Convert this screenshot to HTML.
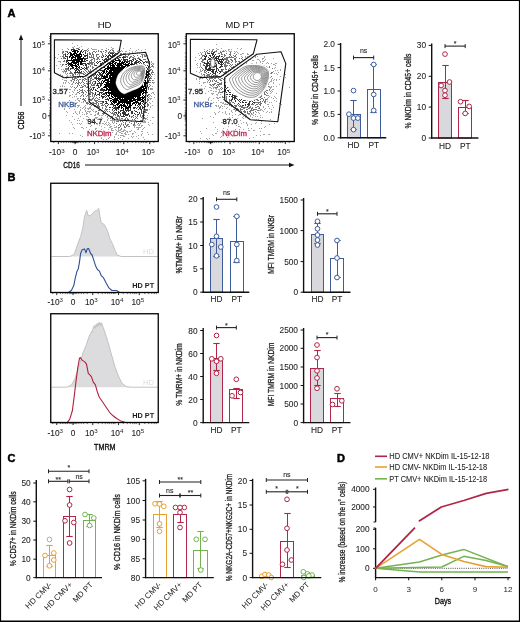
<!DOCTYPE html><html><head><meta charset="utf-8"><style>html,body{margin:0;padding:0;background:#fff;overflow:hidden}svg{display:block}.w{will-change:transform}text{font-family:"Liberation Sans",sans-serif}</style></head><body>
<div class="w"><svg width="520" height="622" viewBox="0 0 520 622" font-family="Liberation Sans, sans-serif">
<rect x="0" y="0" width="520" height="622" fill="#fff"/>
<path d="M0 0H520V1.1H0Z M0 0H1.1V622H0Z M518.9 0H520V622H518.9Z M0 620.6H520V622H0Z" fill="#000"/>
<text x="7.4" y="16.7" font-size="11" text-anchor="start" fill="#000" font-weight="bold" stroke="#000" stroke-width="0.5">A</text>
<text x="7.4" y="180.7" font-size="11" text-anchor="start" fill="#000" font-weight="bold" stroke="#000" stroke-width="0.5">B</text>
<text x="7.4" y="461.6" font-size="11" text-anchor="start" fill="#000" font-weight="bold" stroke="#000" stroke-width="0.5">C</text>
<text x="337" y="461.8" font-size="11" text-anchor="start" fill="#000" font-weight="bold" stroke="#000" stroke-width="0.5">D</text>
<path d="M72 43h1M77 45h1M74 46h1M81 46h1M72 47h2M79 47h1M111 47h1M67 48h1M88 48h1M91 48h1M106 48h1M112 48h2M123 48h1M130 48h1M62 49h1M92 49h5M101 49h2M111 49h2M138 49h1M145 49h1M118 50h1M121 50h1M129 50h1M136 50h1M141 50h1M62 51h1M122 51h1M125 51h2M132 51h1M135 51h1M129 52h1M132 52h1M137 52h1M134 53h2M139 53h1M58 54h1M143 54h2M145 55h1M147 55h1M60 56h1M55 57h1M147 57h1M57 58h1M58 61h3M151 61h1M60 62h1M151 62h1M152 63h2M60 64h1M153 64h1M56 65h1M61 66h1M153 66h1M153 67h1M58 68h1M61 69h1M63 69h1M62 71h3M63 72h1M65 72h1M65 73h1M60 74h1M66 74h1M154 74h1M62 75h1M67 75h1M62 76h1M66 76h2M65 77h1M68 77h1M66 78h1M154 78h1M62 79h1M64 80h3M70 80h1M153 80h1M66 81h1M71 81h1M63 82h1M65 82h1M68 82h1M153 82h2M63 83h1M65 83h1M69 83h1M72 83h1M153 83h1M71 84h2M62 85h1M60 86h1M62 86h1M64 86h1M70 86h1M72 86h1M152 86h1M71 87h1M67 88h1M151 88h2M66 89h2M69 89h2M74 89h1M150 89h3M74 90h1M72 91h1M61 92h1M69 92h1M73 92h1M152 92h2M61 93h1M76 93h1M151 93h1M153 93h1M72 94h1M75 94h2M154 94h1M69 95h2M150 95h1M69 96h1M74 96h1M76 96h1M149 96h1M151 96h1M72 97h1M154 97h1M77 98h2M149 98h3M77 99h1M150 99h1M69 100h1M75 100h1M78 100h2M79 101h1M152 101h1M63 102h1M72 102h1M74 102h1M77 102h1M81 102h1M83 102h1M149 102h1M73 103h1M150 103h1M63 104h1M67 104h1M71 104h1M87 104h1M77 105h3M85 105h1M152 105h1M78 106h1M84 106h1M90 106h1M150 106h1M77 107h1M80 107h1M83 107h1M85 107h1M89 107h2M150 107h1M64 108h1M69 108h1M82 108h1M85 108h1M87 108h4M64 109h1M74 109h1M80 109h1M84 109h1M88 109h1M91 109h1M93 109h1M149 109h1M80 110h1M85 110h1M92 110h1M66 111h1M75 111h1M79 111h1M85 111h1M87 111h4M93 111h1M95 111h1M67 112h1M75 112h1M79 112h1M82 112h1M86 112h1M89 112h1M95 112h1M73 113h1M76 113h1M79 113h1M86 113h2M97 113h1M148 113h1M77 114h1M82 114h1M84 114h1M86 114h1M90 114h2M95 114h1M97 114h2M66 115h1M94 115h2M99 115h1M101 115h2M105 115h1M147 115h1M72 116h1M80 116h1M86 116h2M88 117h1M95 117h3M101 117h1M107 117h1M147 117h1M152 117h2M78 118h1M83 118h1M94 118h3M100 118h1M102 118h1M108 118h1M146 118h1M74 119h1M86 119h2M90 119h1M92 119h1M97 119h1M99 119h1M107 119h1M145 119h1M147 119h1M69 120h1M77 120h1M79 120h1M92 120h2M107 120h1M110 120h5M144 120h1M150 120h1M82 121h1M91 121h1M95 121h1M104 121h1M112 121h1M114 121h1M144 121h2M71 122h1M106 122h1M108 122h1M112 122h1M114 122h1M143 122h3M148 122h1M77 123h1M79 123h1M81 123h1M94 123h1M102 123h2M105 123h1M109 123h1M113 123h1M152 123h1M72 124h1M80 124h1M90 124h1M97 124h1M104 124h1M106 124h1M108 124h1M110 124h1M137 124h1M139 124h1M148 124h1M91 125h1M99 125h1M107 125h1M109 125h1M114 125h1M134 125h2M138 125h2M141 125h2M149 125h1M90 126h1M101 126h1M110 126h2M116 126h1M134 126h1M141 126h1M73 127h1M81 127h2M86 127h1M104 127h1M109 127h2M114 127h3M134 127h1M136 127h5M144 127h1M74 128h1M83 128h1M95 128h2M111 128h2M118 128h1M138 128h1M143 128h1M89 129h1M95 129h1M101 129h1M108 129h1M111 129h1M115 129h1M118 129h1M120 129h2M124 129h1M137 129h2M142 129h1M92 130h1M96 130h2M103 130h1M111 130h3M116 130h1M118 130h3M123 130h3M131 130h1M91 131h1M108 131h1M117 131h2M121 131h3M126 131h2M129 131h2M134 131h1M141 131h2M89 132h1M112 132h1M116 132h1M119 132h2M125 132h1M127 132h1M135 132h1M147 132h1M59 133h1M69 133h1M72 133h1M96 133h1M116 133h1M121 133h2M124 133h2M132 133h2M142 133h1M115 134h2M125 134h2M128 134h1M132 134h1M141 134h1M148 134h1M152 134h1M80 135h1M88 135h1M98 135h1M110 135h1M118 135h1M120 135h4M138 135h1M141 135h1M82 136h1M104 136h1M114 136h1M123 136h2M131 136h1M133 136h1M136 136h1M101 137h1M109 137h1M114 137h1M120 137h1M132 137h1M143 137h1M101 138h1M108 138h1M118 138h1M128 138h1M138 138h1M103 139h1M106 139h1M114 139h1M122 139h1M144 139h1M216 44h1M216 48h1M221 48h1M237 48h1M241 48h1M204 49h1M209 49h1M212 49h1M217 49h2M228 49h2M231 49h1M240 49h1M223 50h1M225 50h1M228 50h1M224 51h1M226 51h1M229 51h3M234 51h1M236 51h1M200 52h1M202 52h1M235 52h1M237 52h1M198 53h1M201 53h1M238 53h1M242 53h2M247 53h1M240 54h2M247 54h2M253 54h1M199 55h1M241 56h1M245 56h1M247 56h1M253 56h1M255 56h1M257 56h1M264 56h1M195 57h1M245 57h1M255 57h1M264 57h1M200 58h1M262 58h2M273 58h1M199 59h1M244 59h2M248 59h1M250 59h1M257 59h2M262 59h1M265 59h1M195 60h1M245 60h1M252 60h2M259 60h1M264 60h1M212 61h1M243 61h2M260 61h1M262 61h2M211 62h1M243 62h1M246 62h1M256 62h1M260 62h1M267 62h1M197 63h1M211 63h1M243 63h1M246 63h1M251 63h2M256 63h1M262 63h1M266 63h1M268 63h1M271 63h1M275 63h2M196 64h1M200 64h1M241 64h1M251 64h1M260 64h1M273 64h2M197 65h1M200 65h1M240 65h1M252 65h1M258 65h1M263 65h2M275 65h1M200 66h1M244 66h1M246 66h1M248 66h1M251 66h1M253 66h2M259 66h2M262 66h1M197 67h1M199 67h1M244 67h1M248 67h1M257 67h1M260 67h2M275 67h1M274 68h1M200 69h1M280 69h1M200 70h1M275 70h1M277 70h1M280 70h1M196 71h1M200 71h2M273 71h1M199 72h1M278 72h1M201 73h1M274 73h1M276 73h1M201 74h1M277 74h1M285 74h1M202 75h1M200 76h2M280 76h1M204 77h1M285 77h1M196 78h1M199 78h2M202 78h1M272 78h1M196 79h1M199 79h1M271 79h1M274 79h1M276 79h1M279 79h1M271 80h1M273 80h1M276 80h1M199 81h1M207 81h1M270 81h2M203 82h3M207 82h1M269 82h1M273 82h1M199 83h1M203 83h1M273 83h1M209 84h1M279 84h1M201 85h1M210 85h1M205 86h1M212 86h1M269 86h1M271 86h1M273 86h1M276 86h1M209 87h2M213 87h2M269 87h3M289 87h1M204 88h1M211 88h1M213 88h1M215 88h2M270 88h1M216 89h1M218 89h2M272 89h2M210 90h2M219 90h1M269 90h1M271 90h1M208 91h1M213 91h1M215 91h2M219 91h1M270 91h1M272 91h1M218 92h2M271 92h1M205 93h1M211 93h3M218 93h1M270 93h1M276 93h1M212 94h1M216 94h2M220 94h1M217 95h1M267 95h2M269 96h1M274 96h1M209 97h1M216 97h2M219 97h2M268 97h1M271 97h1M275 97h1M208 98h1M213 98h1M217 98h2M267 98h1M273 98h1M276 98h1M208 99h1M267 99h1M208 100h1M211 100h1M218 100h1M274 100h1M267 101h1M276 101h1M213 102h1M216 102h1M220 102h2M223 102h1M265 102h1M269 102h1M271 102h1M204 103h1M212 103h1M222 103h2M225 103h1M265 103h1M279 103h1M210 104h1M224 104h3M267 104h2M281 104h1M215 105h2M218 105h1M221 105h1M272 105h1M211 106h1M216 106h1M218 106h1M220 106h1M222 106h1M224 106h1M263 106h1M268 106h1M203 107h1M219 107h2M227 107h1M263 107h1M273 107h1M219 108h1M222 108h1M226 108h1M265 108h1M269 108h1M229 109h1M233 109h1M260 109h2M264 109h1M271 109h1M231 110h1M235 110h1M259 110h2M262 110h1M219 111h1M225 111h1M231 111h1M235 111h1M263 111h1M267 111h1M271 111h1M214 112h1M218 112h1M222 112h1M225 112h1M232 112h1M256 112h1M258 112h1M266 112h1M269 112h1M271 112h1M215 113h1M225 113h1M229 113h1M253 113h1M259 113h1M215 114h1M226 114h1M229 114h1M235 114h1M239 114h1M248 114h2M251 114h2M255 114h1M279 114h1M232 115h1M238 115h1M246 115h1M250 115h1M253 115h1M260 115h1M210 116h1M243 116h1M250 116h1M255 116h1M257 116h1M278 116h1M213 117h1M229 117h1M232 117h1M242 117h1M245 117h1M252 117h1M260 117h1M262 117h1M202 118h1M237 118h1M243 118h1M248 118h1M222 119h1M256 119h1M258 119h1M270 119h1M226 120h1M231 120h1M240 120h1M255 120h1M223 121h1M237 121h1M261 121h1M213 122h1M221 122h1M228 122h1M243 122h1M246 122h1M256 122h1M228 123h2M241 123h1M246 123h1M255 123h1M261 123h1M274 123h1M224 124h1M238 124h1M247 124h1M251 124h1M269 124h1M236 125h1M247 125h1M228 126h1M238 126h2M265 126h1M215 127h1M240 127h1M264 127h1M206 128h1M223 128h1M248 128h1M251 128h1M259 128h1M261 128h1M217 129h1M227 129h1M235 129h1M239 129h1M243 129h1M222 130h1M233 130h1M248 130h2M253 130h2M200 131h1M217 131h1M222 131h1M237 131h1M260 131h1M221 132h1M201 133h1M215 133h2M212 134h1M263 134h2M268 134h2M213 135h1M256 135h1M260 135h1M221 136h1M232 136h1M220 137h1M227 137h1M253 137h1M200 138h1M206 138h1M209 138h1M249 138h1M207 139h1" stroke="#a3a3a3" stroke-width="1" fill="none" transform="translate(0,0.5)"/>
<path d="M73 48h1M76 48h3M68 49h1M82 49h1M87 49h1M108 49h1M84 50h3M88 50h1M98 50h1M105 50h2M110 50h1M112 50h2M63 51h1M65 51h3M85 51h1M87 51h1M93 51h2M96 51h1M98 51h1M100 51h2M103 51h1M106 51h1M109 51h1M113 51h1M117 51h1M120 51h1M62 52h2M89 52h1M92 52h1M95 52h1M101 52h1M105 52h1M108 52h7M118 52h1M62 53h1M65 53h1M87 53h1M89 53h2M92 53h1M102 53h1M116 53h1M120 53h2M123 53h3M63 54h2M89 54h2M92 54h2M96 54h3M102 54h1M105 54h1M120 54h1M123 54h1M128 54h2M141 54h2M63 55h1M91 55h1M93 55h1M96 55h1M102 55h2M121 55h1M125 55h1M128 55h1M133 55h1M137 55h1M142 55h1M144 55h1M62 56h2M89 56h1M91 56h1M93 56h1M96 56h1M99 56h1M101 56h1M124 56h4M130 56h2M134 56h1M140 56h1M142 56h1M144 56h2M63 57h2M89 57h5M97 57h2M101 57h1M127 57h1M129 57h2M132 57h2M138 57h1M142 57h1M61 58h1M63 58h2M93 58h2M97 58h2M133 58h3M137 58h3M147 58h1M91 59h2M94 59h1M96 59h2M99 59h1M143 59h3M148 59h1M64 60h1M90 60h2M94 60h1M63 61h2M89 61h1M91 61h1M94 61h1M146 61h2M149 61h1M89 62h5M147 62h2M89 63h4M94 63h1M148 63h1M62 64h2M65 64h1M88 64h2M91 64h2M94 64h1M151 64h1M62 65h1M90 65h1M94 65h1M152 65h1M66 66h1M88 66h1M90 66h1M92 66h1M149 66h1M151 66h2M87 67h2M92 67h2M150 67h1M65 68h3M87 68h1M92 68h1M65 69h4M86 69h2M90 69h1M94 69h1M150 69h2M64 70h1M66 70h1M68 70h2M85 70h1M88 70h1M90 70h1M150 70h1M152 70h1M65 71h2M70 71h1M83 71h1M86 71h1M88 71h4M93 71h2M152 71h1M70 72h2M81 72h1M84 72h1M87 72h1M89 72h3M93 72h1M151 72h3M67 73h1M69 73h4M74 73h2M78 73h6M85 73h1M88 73h1M90 73h3M94 73h1M151 73h1M72 74h2M75 74h1M77 74h1M79 74h1M83 74h2M87 74h1M91 74h4M150 74h1M152 74h1M70 75h1M72 75h2M79 75h1M85 75h1M87 75h2M90 75h1M92 75h3M150 75h1M73 76h3M77 76h2M80 76h2M84 76h1M86 76h6M93 76h1M151 76h1M72 77h1M75 77h1M77 77h2M80 77h1M82 77h2M87 77h1M89 77h1M91 77h1M94 77h1M150 77h1M72 78h1M74 78h3M84 78h2M90 78h2M94 78h1M150 78h2M72 79h3M77 79h1M79 79h2M82 79h2M85 79h2M88 79h1M90 79h1M92 79h2M149 79h1M71 80h1M74 80h1M76 80h1M78 80h1M82 80h1M84 80h1M90 80h2M149 80h2M152 80h1M73 81h1M78 81h1M82 81h1M86 81h1M88 81h3M93 81h2M73 82h1M76 82h1M78 82h2M81 82h1M83 82h1M90 82h1M92 82h1M149 82h2M152 82h1M75 83h1M77 83h2M80 83h1M84 83h1M86 83h2M89 83h2M92 83h1M94 83h1M78 84h1M83 84h1M87 84h1M91 84h1M93 84h2M149 84h1M77 85h1M79 85h1M81 85h1M84 85h2M88 85h1M91 85h4M150 85h1M77 86h1M82 86h2M85 86h1M87 86h1M90 86h1M149 86h1M74 87h1M76 87h1M80 87h3M86 87h2M90 87h1M92 87h1M75 88h1M88 88h2M91 88h1M148 88h1M150 88h1M79 89h1M82 89h1M90 89h1M148 89h1M77 90h1M80 90h3M84 90h1M87 90h1M89 90h2M79 91h1M82 91h1M85 91h1M88 91h1M90 91h1M77 92h2M81 92h3M86 92h1M90 92h3M79 93h1M83 93h1M88 93h3M92 93h2M82 94h1M85 94h1M89 94h2M92 94h1M94 94h1M148 94h2M81 95h1M83 95h1M87 95h1M92 95h1M94 95h1M148 95h1M80 96h1M83 96h1M86 96h1M90 96h1M92 96h1M94 96h1M93 97h1M96 97h1M148 97h1M80 98h1M83 98h1M85 98h1M92 98h2M95 98h1M97 98h1M147 98h1M82 99h3M88 99h5M94 99h1M98 99h2M147 99h2M84 100h2M90 100h2M94 100h4M147 100h2M83 101h1M85 101h1M89 101h1M95 101h2M98 101h4M147 101h1M86 102h2M89 102h1M92 102h2M96 102h2M102 102h1M86 103h3M90 103h2M93 103h4M98 103h1M100 103h3M147 103h1M89 104h2M92 104h2M96 104h1M98 104h1M102 104h1M104 104h1M147 104h2M91 105h1M94 105h2M97 105h2M101 105h3M105 105h1M147 105h2M94 106h6M105 106h2M147 106h1M98 107h2M102 107h1M106 107h1M102 108h1M105 108h1M99 109h2M105 109h3M109 109h1M145 109h3M98 110h2M101 110h1M104 110h1M106 110h1M112 110h1M145 110h3M96 111h1M105 111h1M107 111h1M109 111h1M113 111h1M143 111h3M98 112h1M103 112h1M110 112h1M112 112h1M114 112h1M144 112h3M98 113h1M102 113h3M111 113h4M141 113h2M103 114h1M113 114h3M140 114h1M143 114h1M108 115h1M113 115h1M115 115h1M117 115h1M137 115h1M140 115h1M142 115h3M107 116h1M110 116h3M117 116h3M131 116h2M135 116h1M137 116h1M140 116h1M142 116h2M112 117h1M115 117h2M119 117h1M126 117h1M131 117h1M133 117h1M136 117h1M141 117h1M143 117h2M110 118h1M112 118h1M116 118h2M119 118h1M121 118h2M125 118h1M127 118h1M135 118h1M137 118h1M143 118h3M112 119h1M114 119h1M117 119h1M124 119h2M127 119h2M132 119h1M134 119h1M120 120h2M128 120h1M135 120h1M140 120h2M116 121h3M120 121h1M122 121h1M126 121h1M131 121h1M139 121h1M141 121h2M123 122h1M125 122h1M129 122h1M134 122h1M136 122h1M116 123h1M121 123h1M125 123h1M131 123h1M134 123h1M138 123h1M140 123h1M119 124h1M121 124h1M123 124h1M125 124h1M127 124h2M133 124h2M118 125h1M120 125h1M123 125h1M126 125h2M133 125h1M120 126h1M124 126h1M126 126h1M128 126h2M118 127h2M124 127h2M121 128h1M213 49h1M207 50h1M212 50h1M216 50h1M204 51h1M206 51h1M209 51h1M211 51h2M214 51h3M220 51h1M222 51h2M205 52h1M207 52h1M211 52h1M220 52h2M230 52h1M205 53h1M207 53h1M218 53h2M221 53h1M226 53h1M230 53h1M234 53h1M201 54h1M221 54h2M224 54h1M229 54h2M236 54h1M202 55h3M224 55h2M230 55h1M233 55h1M235 55h1M202 56h1M222 56h1M224 56h1M229 56h1M231 56h1M234 56h2M201 57h1M223 57h1M226 57h8M236 57h1M242 57h1M201 58h1M224 58h4M234 58h2M239 58h1M241 58h1M202 59h2M211 59h1M213 59h1M224 59h4M230 59h2M234 59h2M242 59h1M202 60h2M226 60h3M231 60h2M235 60h1M201 61h2M210 61h1M225 61h2M228 61h2M232 61h1M235 61h2M238 61h2M202 62h2M224 62h5M231 62h1M235 62h1M239 62h2M200 63h1M210 63h1M214 63h1M225 63h1M227 63h3M237 63h1M239 63h1M203 64h1M210 64h2M224 64h2M230 64h1M232 64h1M235 64h1M203 65h1M224 65h4M229 65h1M231 65h1M236 65h1M224 66h3M230 66h1M233 66h1M266 66h1M269 66h1M201 67h1M225 67h1M231 67h3M237 67h1M267 67h1M269 67h1M202 68h1M225 68h1M229 68h1M237 68h1M241 68h1M249 68h1M259 68h3M272 68h1M203 69h1M205 69h1M222 69h2M225 69h2M228 69h1M234 69h1M236 69h1M238 69h1M240 69h1M242 69h1M256 69h1M258 69h1M263 69h1M266 69h1M268 69h1M202 70h1M204 70h2M221 70h2M228 70h1M230 70h1M233 70h1M235 70h1M238 70h2M244 70h1M246 70h1M254 70h1M262 70h1M266 70h1M269 70h1M204 71h1M206 71h1M221 71h2M225 71h2M228 71h1M232 71h1M234 71h3M241 71h1M246 71h1M248 71h1M253 71h1M259 71h1M265 71h1M268 71h2M204 72h2M223 72h4M228 72h1M230 72h1M232 72h2M243 72h1M247 72h1M259 72h1M263 72h1M267 72h1M271 72h2M206 73h1M224 73h5M234 73h1M241 73h1M243 73h1M248 73h2M253 73h2M256 73h3M263 73h1M265 73h3M270 73h2M203 74h2M207 74h3M223 74h1M225 74h5M245 74h1M248 74h2M260 74h1M264 74h1M266 74h1M204 75h1M206 75h4M211 75h1M213 75h5M222 75h2M227 75h1M230 75h2M233 75h1M241 75h1M243 75h2M247 75h1M258 75h1M263 75h1M267 75h1M204 76h1M207 76h1M209 76h5M215 76h6M223 76h1M226 76h1M228 76h2M234 76h1M237 76h1M240 76h1M246 76h1M248 76h1M250 76h1M252 76h1M256 76h1M262 76h2M267 76h1M269 76h1M271 76h1M205 77h2M211 77h10M229 77h2M232 77h1M239 77h1M243 77h1M248 77h1M262 77h1M268 77h1M270 77h1M206 78h1M209 78h4M214 78h2M218 78h1M221 78h2M224 78h2M230 78h3M234 78h2M237 78h1M241 78h1M246 78h2M254 78h1M256 78h1M258 78h2M266 78h1M269 78h1M207 79h1M209 79h1M213 79h1M219 79h2M223 79h1M226 79h1M229 79h1M231 79h1M234 79h1M237 79h1M239 79h1M243 79h3M248 79h1M258 79h1M261 79h2M264 79h1M266 79h1M208 80h1M210 80h1M212 80h1M214 80h1M216 80h1M220 80h2M224 80h1M228 80h3M232 80h1M237 80h1M244 80h1M246 80h2M251 80h4M257 80h1M259 80h2M210 81h1M212 81h1M215 81h2M226 81h1M229 81h2M232 81h1M235 81h1M240 81h2M244 81h1M246 81h3M251 81h2M257 81h1M259 81h2M262 81h2M265 81h1M209 82h1M217 82h2M221 82h1M228 82h1M231 82h1M233 82h1M237 82h2M245 82h5M251 82h4M256 82h2M259 82h1M263 82h1M214 83h2M219 83h3M229 83h1M233 83h1M235 83h3M239 83h2M245 83h3M253 83h2M256 83h1M258 83h2M263 83h1M266 83h1M268 83h1M210 84h1M212 84h3M217 84h5M230 84h2M237 84h1M240 84h5M249 84h1M252 84h3M257 84h1M259 84h1M262 84h2M265 84h1M268 84h1M211 85h1M213 85h1M216 85h1M218 85h1M233 85h2M236 85h1M239 85h1M241 85h2M245 85h1M247 85h1M252 85h2M255 85h2M258 85h2M263 85h1M217 86h1M219 86h1M236 86h4M241 86h3M245 86h1M249 86h2M253 86h4M258 86h2M261 86h4M268 86h1M215 87h3M221 87h1M241 87h1M243 87h6M250 87h4M255 87h1M259 87h2M262 87h1M264 87h1M266 87h1M220 88h1M222 88h1M243 88h2M246 88h2M251 88h4M257 88h2M261 88h1M265 88h1M221 89h1M247 89h1M249 89h1M251 89h4M257 89h3M265 89h1M269 89h1M254 90h4M260 90h1M266 90h2M222 91h2M257 91h2M260 91h1M264 91h2M220 92h3M255 92h6M262 92h3M266 92h1M224 93h1M255 93h3M261 93h2M264 93h1M267 93h1M255 94h3M261 94h1M264 94h2M224 95h1M260 95h2M266 95h1M222 96h1M224 96h1M226 96h1M259 96h3M222 97h3M226 97h1M257 97h4M264 97h1M226 98h1M261 98h2M223 99h1M226 99h1M229 99h1M257 99h1M260 99h1M263 99h1M265 99h2M226 100h1M229 100h2M257 100h2M263 100h1M265 100h1M225 101h1M227 101h1M229 101h1M231 101h1M260 101h1M262 101h1M264 101h2M228 102h3M232 102h2M255 102h6M264 102h1M230 103h1M234 103h1M254 103h1M258 103h1M260 103h2M227 104h1M229 104h1M231 104h1M237 104h1M239 104h1M251 104h3M256 104h2M259 104h2M229 105h1M231 105h2M234 105h3M238 105h1M240 105h1M249 105h1M255 105h1M260 105h1M231 106h1M235 106h2M239 106h4M248 106h1M250 106h1M257 106h2M235 107h1M241 107h7M249 107h2M252 107h1M255 107h2M259 107h1M236 108h2M240 108h1M243 108h2M248 108h2M251 108h2M258 108h2M234 109h1M237 109h2M240 109h3M246 109h2M251 109h1M253 109h4M236 110h1M240 110h1M244 110h1M250 110h4M257 110h2M241 111h1M243 111h3M247 111h1M249 111h2M255 111h1M241 112h1M244 112h2M247 112h1M250 112h1M253 112h1M242 113h1M247 113h3M251 113h1M240 114h1M245 114h1" stroke="#737373" stroke-width="1" fill="none" transform="translate(0,0.5)"/>
<path d="M71 49h4M78 49h2M71 50h1M73 50h1M77 50h1M81 50h1M80 51h2M83 51h1M67 52h1M69 52h1M82 52h1M85 52h1M68 53h1M85 53h1M108 53h1M110 53h4M115 53h1M65 54h1M67 54h1M87 54h1M109 54h1M112 54h1M114 54h1M117 54h1M65 55h1M84 55h4M106 55h1M108 55h3M112 55h4M117 55h1M120 55h1M65 56h3M84 56h2M87 56h1M103 56h1M105 56h1M107 56h2M110 56h3M114 56h4M123 56h1M67 57h1M87 57h1M102 57h1M107 57h2M112 57h3M117 57h1M119 57h2M122 57h4M65 58h1M67 58h1M84 58h4M105 58h2M108 58h1M110 58h1M117 58h2M123 58h1M129 58h1M67 59h1M84 59h2M102 59h1M104 59h5M118 59h2M121 59h1M123 59h5M132 59h2M135 59h1M139 59h2M66 60h2M84 60h1M86 60h2M103 60h2M106 60h1M120 60h1M123 60h3M127 60h1M129 60h3M133 60h1M136 60h2M140 60h2M66 61h2M83 61h3M97 61h1M99 61h2M104 61h3M125 61h5M131 61h2M135 61h2M138 61h2M142 61h1M145 61h1M66 62h1M96 62h1M98 62h1M102 62h1M104 62h2M129 62h1M131 62h1M134 62h5M140 62h1M143 62h2M146 62h1M67 63h2M82 63h4M87 63h2M97 63h1M100 63h2M103 63h1M131 63h2M134 63h3M139 63h1M141 63h1M143 63h1M66 64h1M68 64h1M82 64h1M85 64h2M100 64h2M103 64h2M137 64h1M142 64h1M68 65h1M83 65h1M85 65h2M95 65h2M100 65h4M147 65h1M69 66h1M86 66h1M99 66h2M148 66h1M68 67h1M79 67h1M81 67h1M84 67h1M86 67h1M97 67h1M101 67h1M103 67h1M148 67h1M68 68h1M70 68h4M76 68h2M79 68h1M82 68h2M85 68h2M99 68h3M147 68h1M70 69h1M74 69h1M76 69h3M80 69h2M84 69h1M96 69h1M99 69h1M147 69h1M75 70h2M78 70h2M96 70h3M100 70h4M149 70h1M75 71h1M77 71h1M79 71h1M81 71h1M95 71h1M102 71h1M148 71h2M74 72h7M96 72h1M98 72h2M101 72h1M95 73h1M99 73h2M102 73h1M148 73h2M95 74h1M97 74h1M99 74h4M148 74h2M96 75h1M98 75h1M100 75h2M148 75h1M96 76h1M99 76h1M101 76h1M148 76h2M95 77h2M98 77h1M101 77h1M148 77h1M95 78h7M147 78h1M149 78h1M96 79h1M98 79h3M147 79h1M97 80h1M99 80h1M148 80h1M95 81h1M98 81h1M101 81h1M147 81h2M95 82h1M99 82h1M101 82h1M147 82h2M95 83h1M97 83h5M147 83h1M97 84h1M100 84h2M96 85h3M100 85h2M147 85h1M98 86h1M100 86h1M147 86h1M93 87h2M98 87h2M148 87h1M93 88h1M97 88h1M101 88h2M91 89h1M93 89h1M95 89h1M100 89h4M92 90h1M95 90h2M100 90h5M97 91h2M103 91h1M146 91h1M95 92h1M99 92h4M146 92h2M95 93h1M99 93h1M101 93h1M103 93h3M95 94h1M97 94h3M102 94h3M96 95h1M99 95h1M101 95h1M105 95h1M147 95h1M101 96h4M106 96h1M147 96h1M99 97h1M102 97h2M105 97h1M102 98h1M107 98h1M145 98h1M105 99h4M145 99h1M108 100h1M145 100h1M102 101h2M105 101h2M110 101h1M103 102h1M106 102h1M143 102h1M145 102h2M105 103h3M111 103h1M142 103h1M144 103h2M108 104h1M110 104h4M139 104h2M143 104h1M107 105h1M113 105h2M137 105h1M139 105h1M141 105h1M144 105h1M113 106h1M115 106h1M138 106h1M140 106h1M142 106h1M145 106h1M109 107h2M112 107h1M114 107h3M133 107h3M137 107h1M139 107h2M142 107h2M113 108h6M130 108h1M133 108h2M136 108h1M139 108h2M142 108h1M112 109h1M115 109h2M118 109h1M127 109h2M130 109h1M138 109h1M140 109h2M144 109h1M114 110h1M116 110h1M120 110h4M125 110h6M134 110h1M141 110h1M118 111h1M120 111h1M123 111h2M126 111h1M128 111h1M131 111h2M135 111h2M141 111h1M115 112h2M118 112h2M122 112h4M131 112h2M137 112h1M139 112h1M141 112h1M116 113h1M118 113h1M120 113h1M122 113h4M128 113h1M131 113h2M134 113h1M139 113h1M117 114h1M120 114h1M123 114h6M135 114h1M137 114h2M118 115h1M120 115h1M123 115h1M125 115h3M129 115h1M133 115h1M121 116h4M129 116h1M213 52h2M208 53h2M211 53h3M205 54h1M212 54h2M215 54h1M206 55h1M209 55h2M212 55h1M214 55h1M219 55h1M204 56h3M210 56h1M213 56h2M216 56h4M221 56h1M205 57h1M208 57h1M211 57h1M213 57h1M215 57h2M218 57h1M204 58h2M209 58h2M214 58h5M222 58h1M204 59h2M208 59h3M214 59h1M216 59h1M218 59h6M207 60h1M215 60h3M219 60h1M221 60h1M223 60h1M207 61h1M209 61h1M218 61h5M204 62h1M207 62h2M218 62h1M220 62h3M204 63h6M215 63h1M218 63h2M221 63h1M223 63h1M206 64h2M209 64h1M216 64h1M220 64h3M204 65h1M206 65h4M216 65h1M221 65h1M205 66h3M209 66h1M214 66h3M220 66h3M205 67h2M209 67h2M213 67h1M216 67h1M219 67h2M205 68h2M208 68h3M216 68h2M206 69h9M216 69h1M218 69h1M221 69h1M207 70h4M212 70h2M216 70h1M218 70h1M211 71h3M215 71h2M219 71h2M208 72h1M212 72h2M215 72h1M217 72h1M220 72h1M210 73h1M213 73h3M219 73h1M212 74h1M215 74h1M224 82h2M224 83h1M227 83h1M224 84h1M227 84h1M224 85h2M228 85h1M225 86h1M228 86h1M230 86h1M225 87h1M227 87h2M231 87h2M234 87h1M236 87h3M226 88h1M231 88h5M238 88h1M240 88h1M242 88h1M224 89h2M229 89h1M235 89h1M237 89h3M241 89h1M243 89h1M224 90h2M227 90h2M230 90h4M235 90h1M238 90h3M243 90h1M247 90h1M252 90h2M224 91h2M228 91h1M238 91h1M242 91h1M244 91h1M246 91h1M248 91h1M250 91h1M226 92h1M229 92h2M236 92h3M240 92h1M244 92h2M247 92h1M251 92h1M233 93h2M237 93h1M239 93h2M244 93h1M246 93h1M249 93h1M253 93h1M226 94h2M229 94h2M232 94h1M235 94h1M238 94h1M240 94h1M245 94h1M248 94h5M254 94h1M232 95h5M241 95h1M245 95h1M247 95h1M249 95h3M254 95h1M229 96h1M231 96h2M234 96h4M239 96h1M241 96h2M245 96h1M247 96h2M250 96h1M253 96h2M232 97h4M240 97h2M244 97h1M247 97h2M255 97h1M232 98h1M234 98h3M242 98h2M246 98h2M251 98h1M253 98h1M255 98h1M231 99h2M234 99h1M237 99h1M239 99h1M241 99h1M246 99h1M249 99h1M253 99h4M231 100h1M235 100h1M238 100h1M240 100h1M243 100h3M247 100h1M251 100h1M254 100h1M235 101h1M239 101h1M242 101h1M249 101h2M252 101h1M240 102h1M242 102h2M245 102h2M249 102h1M253 102h2M238 103h1M248 103h2M252 103h1M245 104h1M247 104h3M242 105h2M245 105h1M248 105h1M247 106h1" stroke="#333333" stroke-width="1" fill="none" transform="translate(0,0.5)"/>
<path d="M74 50h3M72 51h4M77 51h2M70 52h1M74 52h2M77 52h1M80 52h1M70 53h2M73 53h4M79 53h2M70 54h5M76 54h6M83 54h1M70 55h3M74 55h6M81 55h1M69 56h2M72 56h2M75 56h7M69 57h1M71 57h5M77 57h4M83 57h1M71 58h2M75 58h1M77 58h7M113 58h1M71 59h1M73 59h10M110 59h3M115 59h1M68 60h12M81 60h2M110 60h2M113 60h1M115 60h5M72 61h3M76 61h7M107 61h2M111 61h4M119 61h2M122 61h1M124 61h1M68 62h1M71 62h8M80 62h2M107 62h4M112 62h2M115 62h2M119 62h1M121 62h4M126 62h2M69 63h3M73 63h4M78 63h1M80 63h2M107 63h1M109 63h4M114 63h2M117 63h7M125 63h1M128 63h2M69 64h4M75 64h1M77 64h2M80 64h2M106 64h2M109 64h2M112 64h2M115 64h1M117 64h5M123 64h6M130 64h5M136 64h1M143 64h2M70 65h7M78 65h1M105 65h1M108 65h1M110 65h5M116 65h7M125 65h5M131 65h1M134 65h4M140 65h1M143 65h3M71 66h2M75 66h3M79 66h1M107 66h2M110 66h1M112 66h3M117 66h3M121 66h5M127 66h7M135 66h1M137 66h2M140 66h1M144 66h1M72 67h2M76 67h1M78 67h1M104 67h1M107 67h18M126 67h2M131 67h1M134 67h1M136 67h5M142 67h1M144 67h3M75 68h1M105 68h19M125 68h3M129 68h3M133 68h3M138 68h2M141 68h3M104 69h2M107 69h2M110 69h13M124 69h16M141 69h1M143 69h3M104 70h1M106 70h1M109 70h32M142 70h3M146 70h1M103 71h2M106 71h2M109 71h3M113 71h21M135 71h10M146 71h2M103 72h2M106 72h1M108 72h28M137 72h8M146 72h2M103 73h1M105 73h1M107 73h17M125 73h17M143 73h4M106 74h3M110 74h18M129 74h2M132 74h11M144 74h4M102 75h1M104 75h1M106 75h2M109 75h17M127 75h1M129 75h16M146 75h2M102 76h6M109 76h2M112 76h10M123 76h13M137 76h10M103 77h5M109 77h13M123 77h7M131 77h11M143 77h4M102 78h4M108 78h20M129 78h9M139 78h7M105 79h4M110 79h29M140 79h3M144 79h1M102 80h1M104 80h5M110 80h32M143 80h3M103 81h2M107 81h18M126 81h18M145 81h1M103 82h1M105 82h4M110 82h15M126 82h16M143 82h4M102 83h1M106 83h30M137 83h3M141 83h2M144 83h3M104 84h20M125 84h1M127 84h14M142 84h1M144 84h2M105 85h38M144 85h2M104 86h35M140 86h6M103 87h4M108 87h36M145 87h2M106 88h2M109 88h33M143 88h4M104 89h1M106 89h39M105 90h2M108 90h39M108 91h1M111 91h33M145 91h1M105 92h37M143 92h3M106 93h1M108 93h33M142 93h2M145 93h1M106 94h1M109 94h1M111 94h30M142 94h1M107 95h3M111 95h1M113 95h28M143 95h1M145 95h1M108 96h1M111 96h2M114 96h26M142 96h1M144 96h1M109 97h1M112 97h2M115 97h1M117 97h17M135 97h1M137 97h8M109 98h3M114 98h7M122 98h1M124 98h11M137 98h4M142 98h2M112 99h6M119 99h13M133 99h10M144 99h1M110 100h2M113 100h6M120 100h8M129 100h7M137 100h4M142 100h2M112 101h5M118 101h15M135 101h3M141 101h3M111 102h1M113 102h4M118 102h13M133 102h6M140 102h1M112 103h1M114 103h1M117 103h3M122 103h1M124 103h1M126 103h5M132 103h3M136 103h1M138 103h3M116 104h3M120 104h2M123 104h2M127 104h1M129 104h2M132 104h1M135 104h1M138 104h1M115 105h1M117 105h1M119 105h7M127 105h1M129 105h3M135 105h1M118 106h2M121 106h1M123 106h4M128 106h3M117 107h3M121 107h2M125 107h6M121 108h1M123 108h1M125 108h4M123 109h1M125 109h1" stroke="#000000" stroke-width="1" fill="none" transform="translate(0,0.5)"/>
<ellipse cx="212.8" cy="62.8" rx="3.2" ry="5.1" fill="none" stroke="#666" stroke-width="1.2" stroke-dasharray="1,1.3"/>
<ellipse cx="212.8" cy="62.8" rx="2.2" ry="4.1" fill="#fff" stroke="#333" stroke-width="0.7"/>
<path d="M215.3 57.5 L219.3 64.2" stroke="#222" stroke-width="0.9"/>
<path d="M116.2 81C116.53 79.45 117.23 76.62 118.2 74.9C119.17 73.18 120.47 71.98 122 70.7C123.53 69.42 125.6 68.1 127.4 67.2C129.2 66.3 130.88 65.8 132.8 65.3C134.72 64.8 137.12 64.38 138.9 64.2C140.68 64.02 142.35 63.82 143.5 64.2C144.65 64.58 145.42 65.23 145.8 66.5C146.18 67.77 146.05 69.63 145.8 71.8C145.55 73.97 144.93 77.32 144.3 79.5C143.67 81.68 143.02 83.48 142 84.9C140.98 86.32 139.73 87.1 138.2 88C136.67 88.9 134.6 89.53 132.8 90.3C131 91.07 128.82 92.02 127.4 92.6C125.98 93.18 125.45 93.93 124.3 93.8C123.15 93.67 121.58 92.77 120.5 91.8C119.42 90.83 118.52 89.27 117.8 88C117.08 86.73 116.47 85.37 116.2 84.2C115.93 83.03 115.87 82.55 116.2 81Z" fill="#fff" stroke="#fff" stroke-width="0.5"/>
<path d="M120.76 79.4C121.03 78.16 121.59 75.89 122.36 74.52C123.13 73.15 124.17 72.19 125.4 71.16C126.63 70.13 128.28 69.08 129.72 68.36C131.16 67.64 132.51 67.24 134.04 66.84C135.57 66.44 137.49 66.11 138.92 65.96C140.35 65.81 141.68 65.65 142.6 65.96C143.52 66.27 144.13 66.79 144.44 67.8C144.75 68.81 144.64 70.31 144.44 72.04C144.24 73.77 143.75 76.45 143.24 78.2C142.73 79.95 142.21 81.39 141.4 82.52C140.59 83.65 139.59 84.28 138.36 85C137.13 85.72 135.48 86.23 134.04 86.84C132.6 87.45 130.85 88.21 129.72 88.68C128.59 89.15 128.16 89.75 127.24 89.64C126.32 89.53 125.07 88.81 124.2 88.04C123.33 87.27 122.61 86.01 122.04 85C121.47 83.99 120.97 82.89 120.76 81.96C120.55 81.03 120.49 80.64 120.76 79.4Z" fill="none" stroke="#747474" stroke-width="0.75"/>
<path d="M123.4 78.47C123.62 77.41 124.08 75.48 124.73 74.3C125.38 73.13 126.25 72.3 127.28 71.41C128.32 70.53 129.71 69.61 130.94 68.97C132.17 68.33 133.32 67.96 134.65 67.59C135.98 67.23 137.68 66.92 138.93 66.79C140.18 66.66 141.35 66.55 142.16 66.82C142.97 67.1 143.5 67.54 143.78 68.43C144.07 69.31 144.04 70.61 143.86 72.14C143.69 73.67 143.21 76.07 142.75 77.6C142.29 79.12 141.81 80.32 141.09 81.28C140.37 82.25 139.51 82.77 138.45 83.37C137.39 83.98 135.97 84.39 134.73 84.9C133.5 85.41 132.02 86.04 131.06 86.42C130.09 86.81 129.74 87.31 128.95 87.22C128.17 87.12 127.1 86.5 126.36 85.84C125.62 85.18 125.01 84.11 124.52 83.25C124.02 82.38 123.6 81.45 123.42 80.65C123.23 79.86 123.18 79.53 123.4 78.47Z" fill="none" stroke="#747474" stroke-width="0.75"/>
<path d="M126.05 77.55C126.22 76.67 126.58 75.07 127.1 74.09C127.62 73.11 128.33 72.42 129.17 71.67C130.01 70.92 131.15 70.13 132.16 69.58C133.18 69.03 134.13 68.68 135.26 68.35C136.38 68.02 137.86 67.73 138.94 67.62C140.02 67.51 141.02 67.45 141.72 67.68C142.42 67.92 142.87 68.29 143.13 69.05C143.39 69.81 143.43 70.92 143.29 72.24C143.14 73.57 142.68 75.7 142.26 77C141.84 78.3 141.4 79.26 140.78 80.05C140.16 80.84 139.42 81.26 138.53 81.75C137.64 82.24 136.45 82.56 135.43 82.96C134.41 83.37 133.19 83.86 132.39 84.17C131.6 84.47 131.31 84.88 130.67 84.79C130.02 84.7 129.14 84.19 128.53 83.64C127.91 83.09 127.4 82.21 126.99 81.5C126.58 80.78 126.23 80.01 126.07 79.35C125.92 78.69 125.87 78.42 126.05 77.55Z" fill="none" stroke="#747474" stroke-width="0.75"/>
<path d="M128.69 76.62C128.81 75.92 129.08 74.65 129.47 73.87C129.87 73.09 130.4 72.54 131.05 71.92C131.7 71.31 132.58 70.66 133.38 70.19C134.18 69.72 134.93 69.39 135.86 69.1C136.79 68.81 138.05 68.54 138.95 68.45C139.85 68.36 140.69 68.34 141.28 68.55C141.86 68.75 142.23 69.05 142.47 69.68C142.71 70.31 142.83 71.23 142.71 72.35C142.59 73.46 142.14 75.32 141.77 76.4C141.39 77.47 140.99 78.19 140.47 78.81C139.94 79.43 139.34 79.75 138.62 80.12C137.9 80.49 136.94 80.73 136.12 81.03C135.31 81.32 134.35 81.69 133.73 81.91C133.1 82.13 132.89 82.44 132.38 82.37C131.87 82.29 131.18 81.88 130.69 81.44C130.21 81.01 129.79 80.31 129.47 79.74C129.14 79.18 128.86 78.57 128.73 78.04C128.6 77.52 128.57 77.31 128.69 76.62Z" fill="none" stroke="#747474" stroke-width="0.75"/>
<path d="M131.33 75.69C131.41 75.18 131.57 74.24 131.84 73.65C132.11 73.07 132.48 72.66 132.94 72.18C133.4 71.7 134.01 71.19 134.6 70.8C135.19 70.41 135.74 70.11 136.47 69.86C137.2 69.6 138.23 69.35 138.96 69.28C139.69 69.2 140.36 69.24 140.84 69.41C141.31 69.58 141.6 69.8 141.82 70.31C142.03 70.81 142.22 71.53 142.13 72.45C142.04 73.36 141.61 74.94 141.28 75.79C140.95 76.65 140.58 77.12 140.15 77.57C139.72 78.03 139.26 78.25 138.71 78.5C138.15 78.75 137.43 78.9 136.82 79.09C136.21 79.28 135.52 79.51 135.06 79.65C134.61 79.79 134.46 80.01 134.09 79.94C133.73 79.87 133.21 79.57 132.85 79.24C132.5 78.92 132.19 78.41 131.94 77.99C131.7 77.58 131.49 77.12 131.39 76.74C131.29 76.36 131.26 76.2 131.33 75.69Z" fill="none" stroke="#747474" stroke-width="0.75"/>
<path d="M133.97 74.76C134 74.43 134.07 73.83 134.21 73.44C134.35 73.05 134.55 72.77 134.82 72.43C135.09 72.1 135.45 71.71 135.82 71.41C136.2 71.11 136.55 70.83 137.08 70.61C137.6 70.4 138.41 70.16 138.97 70.11C139.52 70.05 140.03 70.13 140.4 70.27C140.76 70.41 140.97 70.55 141.16 70.93C141.35 71.31 141.62 71.84 141.55 72.55C141.49 73.26 141.07 74.56 140.79 75.19C140.5 75.82 140.17 76.06 139.84 76.34C139.51 76.62 139.18 76.74 138.79 76.87C138.41 77.01 137.91 77.06 137.51 77.15C137.11 77.24 136.68 77.33 136.4 77.39C136.12 77.46 136.04 77.58 135.81 77.52C135.58 77.46 135.25 77.26 135.02 77.05C134.79 76.83 134.58 76.51 134.42 76.24C134.26 75.97 134.12 75.68 134.04 75.43C133.97 75.19 133.95 75.1 133.97 74.76Z" fill="none" stroke="#747474" stroke-width="0.75"/>
<path d="M136.62 73.84C136.6 73.68 136.57 73.41 136.58 73.22C136.6 73.03 136.63 72.89 136.71 72.69C136.78 72.49 136.88 72.24 137.04 72.02C137.21 71.8 137.36 71.55 137.69 71.37C138.01 71.19 138.6 70.98 138.98 70.94C139.35 70.9 139.7 71.03 139.95 71.13C140.21 71.24 140.33 71.31 140.51 71.56C140.68 71.81 141.01 72.15 140.98 72.65C140.94 73.16 140.54 74.18 140.3 74.59C140.06 75 139.77 74.99 139.53 75.1C139.29 75.21 139.1 75.23 138.88 75.25C138.66 75.27 138.4 75.23 138.21 75.21C138.02 75.2 137.85 75.16 137.74 75.14C137.62 75.12 137.61 75.14 137.52 75.09C137.43 75.05 137.29 74.95 137.18 74.85C137.08 74.75 136.97 74.61 136.89 74.49C136.81 74.37 136.75 74.24 136.7 74.13C136.65 74.02 136.64 73.99 136.62 73.84Z" fill="none" stroke="#747474" stroke-width="0.75"/>
<path d="M226 78.3C227.42 76.3 231.47 72.75 234.5 70.5C237.53 68.25 240.98 65.92 244.2 64.8C247.42 63.68 251 63.83 253.8 63.8C256.6 63.77 258.92 64.12 261 64.6C263.08 65.08 264.88 65.8 266.3 66.7C267.72 67.6 268.85 68.72 269.5 70C270.15 71.28 270.17 72.87 270.2 74.4C270.23 75.93 270.3 76.98 269.7 79.2C269.1 81.42 267.83 85.23 266.6 87.7C265.37 90.17 263.9 92.15 262.3 94C260.7 95.85 258.77 97.73 257 98.8C255.23 99.87 253.63 100.22 251.7 100.4C249.77 100.58 247.52 100.43 245.4 99.9C243.28 99.37 241.12 98.35 239 97.2C236.88 96.05 234.45 94.58 232.7 93C230.95 91.42 229.62 89.45 228.5 87.7C227.38 85.95 226.42 84.07 226 82.5C225.58 80.93 224.58 80.3 226 78.3Z" fill="#fff" stroke="#fff" stroke-width="0.5"/>
<path d="M230.09 78.07C231.33 76.33 234.85 73.24 237.49 71.28C240.13 69.32 243.13 67.29 245.93 66.32C248.73 65.35 251.84 65.48 254.28 65.45C256.72 65.42 258.73 65.73 260.55 66.15C262.36 66.57 263.92 67.19 265.16 67.97C266.39 68.76 267.37 69.73 267.94 70.84C268.51 71.96 268.52 73.34 268.55 74.67C268.58 76.01 268.64 76.92 268.11 78.85C267.59 80.78 266.49 84.1 265.42 86.24C264.34 88.39 263.07 90.12 261.68 91.72C260.28 93.33 258.6 94.97 257.06 95.9C255.53 96.83 254.14 97.13 252.45 97.29C250.77 97.45 248.81 97.32 246.97 96.86C245.13 96.39 243.25 95.51 241.41 94.51C239.56 93.51 237.45 92.23 235.92 90.86C234.4 89.48 233.24 87.77 232.27 86.24C231.3 84.72 230.46 83.08 230.09 81.72C229.73 80.36 228.86 79.81 230.09 78.07Z" fill="none" stroke="#6e6e6e" stroke-width="0.75"/>
<path d="M232.99 77.9C234.08 76.34 237.16 73.58 239.5 71.8C241.83 70.03 244.5 68.17 247 67.27C249.51 66.36 252.33 66.42 254.55 66.37C256.76 66.32 258.64 66.59 260.3 66.98C261.96 67.37 263.39 67.96 264.52 68.68C265.65 69.4 266.54 70.3 267.06 71.32C267.58 72.35 267.61 73.6 267.64 74.82C267.68 76.05 267.74 76.9 267.26 78.66C266.77 80.42 265.73 83.46 264.73 85.4C263.74 87.34 262.56 88.87 261.29 90.3C260.01 91.73 258.49 93.17 257.11 93.98C255.72 94.8 254.47 95.06 252.96 95.19C251.45 95.32 249.7 95.2 248.05 94.77C246.4 94.35 244.72 93.55 243.07 92.65C241.43 91.74 239.54 90.59 238.18 89.35C236.83 88.11 235.8 86.58 234.93 85.22C234.07 83.85 233.32 82.39 233 81.17C232.68 79.95 231.91 79.46 232.99 77.9Z" fill="none" stroke="#6e6e6e" stroke-width="0.75"/>
<path d="M235.89 77.73C236.82 76.35 239.48 73.91 241.51 72.33C243.54 70.74 245.86 69.05 248.08 68.21C250.3 67.37 252.82 67.35 254.82 67.29C256.81 67.22 258.54 67.46 260.06 67.81C261.57 68.16 262.87 68.72 263.89 69.39C264.91 70.05 265.71 70.87 266.18 71.8C266.66 72.73 266.7 73.86 266.74 74.97C266.77 76.08 266.85 76.87 266.4 78.47C265.95 80.07 264.97 82.83 264.05 84.56C263.13 86.3 262.04 87.62 260.89 88.87C259.74 90.12 258.39 91.36 257.15 92.06C255.91 92.76 254.81 92.99 253.47 93.09C252.14 93.19 250.59 93.07 249.13 92.68C247.67 92.3 246.18 91.59 244.74 90.78C243.29 89.98 241.64 88.95 240.44 87.85C239.25 86.75 238.35 85.39 237.59 84.19C236.84 82.98 236.19 81.69 235.9 80.61C235.62 79.54 234.96 79.12 235.89 77.73Z" fill="none" stroke="#6e6e6e" stroke-width="0.75"/>
<path d="M238.79 77.57C239.57 76.37 241.79 74.25 243.51 72.85C245.24 71.45 247.23 69.93 249.15 69.16C251.08 68.38 253.31 68.29 255.08 68.2C256.86 68.12 258.45 68.33 259.81 68.64C261.17 68.96 262.34 69.49 263.25 70.09C264.17 70.7 264.87 71.44 265.3 72.27C265.73 73.11 265.79 74.12 265.83 75.12C265.87 76.12 265.95 76.85 265.54 78.28C265.13 79.71 264.21 82.19 263.37 83.72C262.53 85.25 261.53 86.38 260.5 87.45C259.47 88.52 258.28 89.55 257.19 90.14C256.11 90.73 255.15 90.91 253.98 90.99C252.82 91.06 251.47 90.94 250.21 90.6C248.95 90.25 247.65 89.63 246.4 88.92C245.15 88.21 243.73 87.3 242.71 86.34C241.68 85.38 240.9 84.21 240.25 83.16C239.61 82.11 239.05 80.99 238.81 80.06C238.57 79.13 238 78.77 238.79 77.57Z" fill="none" stroke="#6e6e6e" stroke-width="0.75"/>
<path d="M241.69 77.4C242.32 76.38 244.1 74.59 245.52 73.38C246.95 72.16 248.59 70.81 250.23 70.1C251.87 69.4 253.79 69.22 255.35 69.12C256.91 69.02 258.35 69.2 259.57 69.48C260.78 69.76 261.81 70.25 262.62 70.8C263.43 71.35 264.04 72 264.42 72.75C264.81 73.5 264.88 74.38 264.93 75.27C264.97 76.16 265.06 76.82 264.69 78.09C264.31 79.36 263.45 81.56 262.68 82.88C261.92 84.2 261.02 85.13 260.11 86.02C259.2 86.91 258.17 87.75 257.24 88.22C256.3 88.7 255.49 88.84 254.49 88.88C253.5 88.93 252.36 88.82 251.29 88.51C250.22 88.21 249.12 87.67 248.07 87.05C247.01 86.44 245.82 85.66 244.97 84.84C244.11 84.02 243.46 83.02 242.92 82.13C242.37 81.24 241.92 80.29 241.71 79.51C241.51 78.72 241.05 78.43 241.69 77.4Z" fill="none" stroke="#6e6e6e" stroke-width="0.75"/>
<path d="M244.58 77.24C245.07 76.4 246.41 74.93 247.53 73.9C248.65 72.87 249.96 71.69 251.31 71.05C252.65 70.41 254.28 70.16 255.62 70.04C256.95 69.91 258.26 70.07 259.32 70.31C260.38 70.56 261.28 71.02 261.98 71.51C262.69 71.99 263.2 72.57 263.54 73.23C263.88 73.88 263.97 74.64 264.02 75.42C264.07 76.2 264.17 76.8 263.83 77.9C263.49 79 262.69 80.92 262 82.04C261.32 83.16 260.51 83.89 259.72 84.6C258.93 85.31 258.07 85.94 257.28 86.3C256.49 86.67 255.82 86.76 255 86.78C254.19 86.8 253.25 86.69 252.37 86.43C251.49 86.16 250.59 85.7 249.73 85.19C248.88 84.67 247.92 84.02 247.23 83.34C246.53 82.65 246.01 81.83 245.58 81.1C245.14 80.37 244.78 79.6 244.62 78.95C244.45 78.31 244.1 78.08 244.58 77.24Z" fill="none" stroke="#6e6e6e" stroke-width="0.75"/>
<path d="M247.48 77.07C247.82 76.41 248.72 75.27 249.54 74.42C250.36 73.58 251.32 72.57 252.38 72C253.44 71.42 254.77 71.1 255.88 70.96C257 70.81 258.16 70.93 259.08 71.14C259.99 71.35 260.75 71.79 261.35 72.21C261.95 72.64 262.37 73.14 262.66 73.7C262.96 74.26 263.07 74.9 263.12 75.57C263.17 76.24 263.27 76.77 262.97 77.71C262.67 78.65 261.93 80.29 261.32 81.2C260.71 82.11 260 82.64 259.33 83.17C258.66 83.7 257.96 84.13 257.32 84.38C256.69 84.64 256.16 84.69 255.51 84.68C254.87 84.67 254.13 84.56 253.45 84.34C252.76 84.11 252.06 83.74 251.4 83.33C250.74 82.91 250.01 82.37 249.49 81.83C248.96 81.29 248.57 80.65 248.24 80.08C247.91 79.5 247.65 78.9 247.52 78.4C247.4 77.9 247.14 77.74 247.48 77.07Z" fill="none" stroke="#6e6e6e" stroke-width="0.75"/>
<path d="M250.38 76.91C250.56 76.42 251.04 75.61 251.55 74.95C252.06 74.29 252.69 73.45 253.46 72.94C254.22 72.43 255.26 72.03 256.15 71.87C257.05 71.71 258.07 71.8 258.83 71.98C259.59 72.15 260.22 72.55 260.72 72.92C261.21 73.29 261.54 73.71 261.78 74.18C262.03 74.65 262.16 75.16 262.21 75.72C262.27 76.28 262.38 76.75 262.12 77.52C261.85 78.29 261.16 79.65 260.64 80.36C260.11 81.06 259.48 81.4 258.94 81.75C258.39 82.1 257.85 82.33 257.37 82.46C256.88 82.6 256.5 82.61 256.02 82.58C255.55 82.54 255.02 82.44 254.53 82.25C254.03 82.07 253.53 81.78 253.07 81.46C252.6 81.14 252.11 80.73 251.75 80.33C251.39 79.93 251.12 79.46 250.9 79.05C250.68 78.64 250.52 78.2 250.43 77.85C250.34 77.49 250.19 77.39 250.38 76.91Z" fill="none" stroke="#6e6e6e" stroke-width="0.75"/>
<path d="M253.28 76.74C253.31 76.44 253.35 75.95 253.56 75.47C253.77 75 254.05 74.34 254.53 73.89C255.01 73.44 255.74 72.97 256.42 72.79C257.09 72.61 257.98 72.67 258.59 72.81C259.2 72.95 259.69 73.32 260.08 73.63C260.47 73.93 260.7 74.28 260.91 74.66C261.11 75.03 261.25 75.42 261.31 75.87C261.36 76.32 261.48 76.72 261.26 77.33C261.03 77.94 260.4 79.02 259.95 79.52C259.5 80.02 258.97 80.15 258.55 80.32C258.12 80.49 257.74 80.52 257.41 80.55C257.07 80.57 256.84 80.54 256.54 80.48C256.23 80.41 255.91 80.31 255.6 80.17C255.3 80.02 255 79.82 254.73 79.6C254.46 79.37 254.2 79.09 254.01 78.82C253.81 78.56 253.67 78.28 253.56 78.02C253.45 77.77 253.38 77.51 253.33 77.29C253.29 77.08 253.24 77.05 253.28 76.74Z" fill="none" stroke="#6e6e6e" stroke-width="0.75"/>
<line x1="120" y1="53.6" x2="86.5" y2="77.2" stroke="#fff" stroke-width="1.3"/>
<line x1="255" y1="54" x2="222.8" y2="77" stroke="#fff" stroke-width="1.3"/>
<path d="M54.4 39.7 L121.3 40.2 L119 52.5 L85 76.3 L64 77.8 L54.4 72.8 Z" stroke="#111" stroke-width="1.1" fill="none" stroke-linejoin="round"/>
<path d="M88.1 78 L120.8 54.8 L145.6 52.2 L149.6 63.5 L142.7 121.7 L115 119.7 L89.2 102 Z" stroke="#111" stroke-width="1.1" fill="none" stroke-linejoin="round"/>
<path d="M190.4 39.3 L257.1 39.7 L253.3 53.8 L221 76.5 L200.4 77.6 L190.4 73.2 Z" stroke="#111" stroke-width="1.1" fill="none" stroke-linejoin="round"/>
<path d="M224.7 77.4 L256.8 54.3 L281 51.7 L285.8 63.6 L277.8 121.7 L250.4 119.7 L224.7 100.3 Z" stroke="#111" stroke-width="1.1" fill="none" stroke-linejoin="round"/>
<rect x="50.75" y="33.75" width="107.5" height="107.75" fill="none" stroke="#000" stroke-width="1.3"/>
<line x1="47.95" y1="43.8" x2="50.75" y2="43.8" stroke="#111" stroke-width="0.9"/>
<text x="44.95" y="48" font-size="8.4" text-anchor="end" fill="#1e1e1e" stroke="#222" stroke-width="0.1">10<tspan font-size="6.2" dy="-2.9" stroke-width="0">5</tspan></text>
<line x1="47.95" y1="70.8" x2="50.75" y2="70.8" stroke="#111" stroke-width="0.9"/>
<text x="44.95" y="73.8" font-size="8.4" text-anchor="end" fill="#1e1e1e" stroke="#222" stroke-width="0.1">10<tspan font-size="6.2" dy="-2.9" stroke-width="0">4</tspan></text>
<line x1="47.95" y1="100" x2="50.75" y2="100" stroke="#111" stroke-width="0.9"/>
<text x="44.95" y="103" font-size="8.4" text-anchor="end" fill="#1e1e1e" stroke="#222" stroke-width="0.1">10<tspan font-size="6.2" dy="-2.9" stroke-width="0">3</tspan></text>
<line x1="47.95" y1="115.8" x2="50.75" y2="115.8" stroke="#111" stroke-width="0.9"/>
<text x="46.55" y="118.8" font-size="8.4" text-anchor="end" fill="#1e1e1e" stroke="#222" stroke-width="0.1">0</text>
<line x1="47.95" y1="135.8" x2="50.75" y2="135.8" stroke="#111" stroke-width="0.9"/>
<text x="44.95" y="138.8" font-size="8.4" text-anchor="end" fill="#1e1e1e" stroke="#222" stroke-width="0.1">-10<tspan font-size="6.2" dy="-2.9" stroke-width="0">3</tspan></text>
<line x1="49.25" y1="36.5" x2="50.75" y2="36.5" stroke="#111" stroke-width="0.6"/>
<line x1="49.25" y1="38.5" x2="50.75" y2="38.5" stroke="#111" stroke-width="0.6"/>
<line x1="49.25" y1="41" x2="50.75" y2="41" stroke="#111" stroke-width="0.6"/>
<line x1="49.25" y1="53" x2="50.75" y2="53" stroke="#111" stroke-width="0.6"/>
<line x1="49.25" y1="57" x2="50.75" y2="57" stroke="#111" stroke-width="0.6"/>
<line x1="49.25" y1="60" x2="50.75" y2="60" stroke="#111" stroke-width="0.6"/>
<line x1="49.25" y1="63" x2="50.75" y2="63" stroke="#111" stroke-width="0.6"/>
<line x1="49.25" y1="66" x2="50.75" y2="66" stroke="#111" stroke-width="0.6"/>
<line x1="49.25" y1="68.5" x2="50.75" y2="68.5" stroke="#111" stroke-width="0.6"/>
<line x1="49.25" y1="79" x2="50.75" y2="79" stroke="#111" stroke-width="0.6"/>
<line x1="49.25" y1="84" x2="50.75" y2="84" stroke="#111" stroke-width="0.6"/>
<line x1="49.25" y1="88" x2="50.75" y2="88" stroke="#111" stroke-width="0.6"/>
<line x1="49.25" y1="92" x2="50.75" y2="92" stroke="#111" stroke-width="0.6"/>
<line x1="49.25" y1="95" x2="50.75" y2="95" stroke="#111" stroke-width="0.6"/>
<line x1="49.25" y1="97.5" x2="50.75" y2="97.5" stroke="#111" stroke-width="0.6"/>
<line x1="49.25" y1="104" x2="50.75" y2="104" stroke="#111" stroke-width="0.6"/>
<line x1="49.25" y1="108" x2="50.75" y2="108" stroke="#111" stroke-width="0.6"/>
<line x1="49.25" y1="110.5" x2="50.75" y2="110.5" stroke="#111" stroke-width="0.6"/>
<line x1="49.25" y1="112" x2="50.75" y2="112" stroke="#111" stroke-width="0.6"/>
<line x1="49.25" y1="113" x2="50.75" y2="113" stroke="#111" stroke-width="0.6"/>
<line x1="49.25" y1="114" x2="50.75" y2="114" stroke="#111" stroke-width="0.6"/>
<line x1="49.25" y1="114.8" x2="50.75" y2="114.8" stroke="#111" stroke-width="0.6"/>
<line x1="49.25" y1="116.6" x2="50.75" y2="116.6" stroke="#111" stroke-width="0.6"/>
<line x1="49.25" y1="117.5" x2="50.75" y2="117.5" stroke="#111" stroke-width="0.6"/>
<line x1="49.25" y1="118.5" x2="50.75" y2="118.5" stroke="#111" stroke-width="0.6"/>
<line x1="49.25" y1="119.5" x2="50.75" y2="119.5" stroke="#111" stroke-width="0.6"/>
<line x1="49.25" y1="121" x2="50.75" y2="121" stroke="#111" stroke-width="0.6"/>
<line x1="49.25" y1="125" x2="50.75" y2="125" stroke="#111" stroke-width="0.6"/>
<line x1="49.25" y1="130" x2="50.75" y2="130" stroke="#111" stroke-width="0.6"/>
<line x1="49.25" y1="133" x2="50.75" y2="133" stroke="#111" stroke-width="0.6"/>
<line x1="58.35" y1="141.5" x2="58.35" y2="144.1" stroke="#111" stroke-width="0.9"/>
<text x="56.85" y="155.4" font-size="8.4" text-anchor="middle" fill="#1e1e1e" stroke="#222" stroke-width="0.1">-10<tspan font-size="6.2" dy="-2.9" stroke-width="0">3</tspan></text>
<line x1="75.15" y1="141.5" x2="75.15" y2="144.1" stroke="#111" stroke-width="0.9"/>
<text x="75.15" y="155.4" font-size="8.4" text-anchor="middle" fill="#1e1e1e" stroke="#222" stroke-width="0.1">0</text>
<line x1="94.55" y1="141.5" x2="94.55" y2="144.1" stroke="#111" stroke-width="0.9"/>
<text x="93.05" y="155.4" font-size="8.4" text-anchor="middle" fill="#1e1e1e" stroke="#222" stroke-width="0.1">10<tspan font-size="6.2" dy="-2.9" stroke-width="0">3</tspan></text>
<line x1="123.75" y1="141.5" x2="123.75" y2="144.1" stroke="#111" stroke-width="0.9"/>
<text x="122.25" y="155.4" font-size="8.4" text-anchor="middle" fill="#1e1e1e" stroke="#222" stroke-width="0.1">10<tspan font-size="6.2" dy="-2.9" stroke-width="0">4</tspan></text>
<line x1="149.75" y1="141.5" x2="149.75" y2="144.1" stroke="#111" stroke-width="0.9"/>
<text x="148.25" y="155.4" font-size="8.4" text-anchor="middle" fill="#1e1e1e" stroke="#222" stroke-width="0.1">10<tspan font-size="6.2" dy="-2.9" stroke-width="0">5</tspan></text>
<line x1="53.75" y1="141.5" x2="53.75" y2="143.1" stroke="#111" stroke-width="0.6"/>
<line x1="61.25" y1="141.5" x2="61.25" y2="143.1" stroke="#111" stroke-width="0.6"/>
<line x1="63.75" y1="141.5" x2="63.75" y2="143.1" stroke="#111" stroke-width="0.6"/>
<line x1="66.25" y1="141.5" x2="66.25" y2="143.1" stroke="#111" stroke-width="0.6"/>
<line x1="68.75" y1="141.5" x2="68.75" y2="143.1" stroke="#111" stroke-width="0.6"/>
<line x1="70.75" y1="141.5" x2="70.75" y2="143.1" stroke="#111" stroke-width="0.6"/>
<line x1="72.25" y1="141.5" x2="72.25" y2="143.1" stroke="#111" stroke-width="0.6"/>
<line x1="73.05" y1="141.5" x2="73.05" y2="143.1" stroke="#111" stroke-width="0.6"/>
<line x1="73.75" y1="141.5" x2="73.75" y2="143.1" stroke="#111" stroke-width="0.6"/>
<line x1="74.35" y1="141.5" x2="74.35" y2="143.1" stroke="#111" stroke-width="0.6"/>
<line x1="74.95" y1="141.5" x2="74.95" y2="143.1" stroke="#111" stroke-width="0.6"/>
<line x1="75.55" y1="141.5" x2="75.55" y2="143.1" stroke="#111" stroke-width="0.6"/>
<line x1="76.15" y1="141.5" x2="76.15" y2="143.1" stroke="#111" stroke-width="0.6"/>
<line x1="76.75" y1="141.5" x2="76.75" y2="143.1" stroke="#111" stroke-width="0.6"/>
<line x1="77.25" y1="141.5" x2="77.25" y2="143.1" stroke="#111" stroke-width="0.6"/>
<line x1="78.75" y1="141.5" x2="78.75" y2="143.1" stroke="#111" stroke-width="0.6"/>
<line x1="80.75" y1="141.5" x2="80.75" y2="143.1" stroke="#111" stroke-width="0.6"/>
<line x1="83.25" y1="141.5" x2="83.25" y2="143.1" stroke="#111" stroke-width="0.6"/>
<line x1="85.75" y1="141.5" x2="85.75" y2="143.1" stroke="#111" stroke-width="0.6"/>
<line x1="89.25" y1="141.5" x2="89.25" y2="143.1" stroke="#111" stroke-width="0.6"/>
<line x1="98.25" y1="141.5" x2="98.25" y2="143.1" stroke="#111" stroke-width="0.6"/>
<line x1="102.75" y1="141.5" x2="102.75" y2="143.1" stroke="#111" stroke-width="0.6"/>
<line x1="105.75" y1="141.5" x2="105.75" y2="143.1" stroke="#111" stroke-width="0.6"/>
<line x1="108.25" y1="141.5" x2="108.25" y2="143.1" stroke="#111" stroke-width="0.6"/>
<line x1="110.25" y1="141.5" x2="110.25" y2="143.1" stroke="#111" stroke-width="0.6"/>
<line x1="112.25" y1="141.5" x2="112.25" y2="143.1" stroke="#111" stroke-width="0.6"/>
<line x1="114.25" y1="141.5" x2="114.25" y2="143.1" stroke="#111" stroke-width="0.6"/>
<line x1="116.25" y1="141.5" x2="116.25" y2="143.1" stroke="#111" stroke-width="0.6"/>
<line x1="118.25" y1="141.5" x2="118.25" y2="143.1" stroke="#111" stroke-width="0.6"/>
<line x1="120.25" y1="141.5" x2="120.25" y2="143.1" stroke="#111" stroke-width="0.6"/>
<line x1="127.75" y1="141.5" x2="127.75" y2="143.1" stroke="#111" stroke-width="0.6"/>
<line x1="132.25" y1="141.5" x2="132.25" y2="143.1" stroke="#111" stroke-width="0.6"/>
<line x1="135.75" y1="141.5" x2="135.75" y2="143.1" stroke="#111" stroke-width="0.6"/>
<line x1="138.75" y1="141.5" x2="138.75" y2="143.1" stroke="#111" stroke-width="0.6"/>
<line x1="141.25" y1="141.5" x2="141.25" y2="143.1" stroke="#111" stroke-width="0.6"/>
<line x1="143.25" y1="141.5" x2="143.25" y2="143.1" stroke="#111" stroke-width="0.6"/>
<line x1="145.25" y1="141.5" x2="145.25" y2="143.1" stroke="#111" stroke-width="0.6"/>
<line x1="146.75" y1="141.5" x2="146.75" y2="143.1" stroke="#111" stroke-width="0.6"/>
<line x1="153.75" y1="141.5" x2="153.75" y2="143.1" stroke="#111" stroke-width="0.6"/>
<rect x="186.25" y="33.75" width="108" height="107.75" fill="none" stroke="#000" stroke-width="1.3"/>
<line x1="183.45" y1="43.8" x2="186.25" y2="43.8" stroke="#111" stroke-width="0.9"/>
<text x="180.45" y="48" font-size="8.4" text-anchor="end" fill="#1e1e1e" stroke="#222" stroke-width="0.1">10<tspan font-size="6.2" dy="-2.9" stroke-width="0">5</tspan></text>
<line x1="183.45" y1="70.8" x2="186.25" y2="70.8" stroke="#111" stroke-width="0.9"/>
<text x="180.45" y="73.8" font-size="8.4" text-anchor="end" fill="#1e1e1e" stroke="#222" stroke-width="0.1">10<tspan font-size="6.2" dy="-2.9" stroke-width="0">4</tspan></text>
<line x1="183.45" y1="100" x2="186.25" y2="100" stroke="#111" stroke-width="0.9"/>
<text x="180.45" y="103" font-size="8.4" text-anchor="end" fill="#1e1e1e" stroke="#222" stroke-width="0.1">10<tspan font-size="6.2" dy="-2.9" stroke-width="0">3</tspan></text>
<line x1="183.45" y1="115.8" x2="186.25" y2="115.8" stroke="#111" stroke-width="0.9"/>
<text x="182.05" y="118.8" font-size="8.4" text-anchor="end" fill="#1e1e1e" stroke="#222" stroke-width="0.1">0</text>
<line x1="183.45" y1="135.8" x2="186.25" y2="135.8" stroke="#111" stroke-width="0.9"/>
<text x="180.45" y="138.8" font-size="8.4" text-anchor="end" fill="#1e1e1e" stroke="#222" stroke-width="0.1">-10<tspan font-size="6.2" dy="-2.9" stroke-width="0">3</tspan></text>
<line x1="184.75" y1="36.5" x2="186.25" y2="36.5" stroke="#111" stroke-width="0.6"/>
<line x1="184.75" y1="38.5" x2="186.25" y2="38.5" stroke="#111" stroke-width="0.6"/>
<line x1="184.75" y1="41" x2="186.25" y2="41" stroke="#111" stroke-width="0.6"/>
<line x1="184.75" y1="53" x2="186.25" y2="53" stroke="#111" stroke-width="0.6"/>
<line x1="184.75" y1="57" x2="186.25" y2="57" stroke="#111" stroke-width="0.6"/>
<line x1="184.75" y1="60" x2="186.25" y2="60" stroke="#111" stroke-width="0.6"/>
<line x1="184.75" y1="63" x2="186.25" y2="63" stroke="#111" stroke-width="0.6"/>
<line x1="184.75" y1="66" x2="186.25" y2="66" stroke="#111" stroke-width="0.6"/>
<line x1="184.75" y1="68.5" x2="186.25" y2="68.5" stroke="#111" stroke-width="0.6"/>
<line x1="184.75" y1="79" x2="186.25" y2="79" stroke="#111" stroke-width="0.6"/>
<line x1="184.75" y1="84" x2="186.25" y2="84" stroke="#111" stroke-width="0.6"/>
<line x1="184.75" y1="88" x2="186.25" y2="88" stroke="#111" stroke-width="0.6"/>
<line x1="184.75" y1="92" x2="186.25" y2="92" stroke="#111" stroke-width="0.6"/>
<line x1="184.75" y1="95" x2="186.25" y2="95" stroke="#111" stroke-width="0.6"/>
<line x1="184.75" y1="97.5" x2="186.25" y2="97.5" stroke="#111" stroke-width="0.6"/>
<line x1="184.75" y1="104" x2="186.25" y2="104" stroke="#111" stroke-width="0.6"/>
<line x1="184.75" y1="108" x2="186.25" y2="108" stroke="#111" stroke-width="0.6"/>
<line x1="184.75" y1="110.5" x2="186.25" y2="110.5" stroke="#111" stroke-width="0.6"/>
<line x1="184.75" y1="112" x2="186.25" y2="112" stroke="#111" stroke-width="0.6"/>
<line x1="184.75" y1="113" x2="186.25" y2="113" stroke="#111" stroke-width="0.6"/>
<line x1="184.75" y1="114" x2="186.25" y2="114" stroke="#111" stroke-width="0.6"/>
<line x1="184.75" y1="114.8" x2="186.25" y2="114.8" stroke="#111" stroke-width="0.6"/>
<line x1="184.75" y1="116.6" x2="186.25" y2="116.6" stroke="#111" stroke-width="0.6"/>
<line x1="184.75" y1="117.5" x2="186.25" y2="117.5" stroke="#111" stroke-width="0.6"/>
<line x1="184.75" y1="118.5" x2="186.25" y2="118.5" stroke="#111" stroke-width="0.6"/>
<line x1="184.75" y1="119.5" x2="186.25" y2="119.5" stroke="#111" stroke-width="0.6"/>
<line x1="184.75" y1="121" x2="186.25" y2="121" stroke="#111" stroke-width="0.6"/>
<line x1="184.75" y1="125" x2="186.25" y2="125" stroke="#111" stroke-width="0.6"/>
<line x1="184.75" y1="130" x2="186.25" y2="130" stroke="#111" stroke-width="0.6"/>
<line x1="184.75" y1="133" x2="186.25" y2="133" stroke="#111" stroke-width="0.6"/>
<line x1="193.85" y1="141.5" x2="193.85" y2="144.1" stroke="#111" stroke-width="0.9"/>
<text x="192.35" y="155.4" font-size="8.4" text-anchor="middle" fill="#1e1e1e" stroke="#222" stroke-width="0.1">-10<tspan font-size="6.2" dy="-2.9" stroke-width="0">3</tspan></text>
<line x1="210.65" y1="141.5" x2="210.65" y2="144.1" stroke="#111" stroke-width="0.9"/>
<text x="210.65" y="155.4" font-size="8.4" text-anchor="middle" fill="#1e1e1e" stroke="#222" stroke-width="0.1">0</text>
<line x1="230.05" y1="141.5" x2="230.05" y2="144.1" stroke="#111" stroke-width="0.9"/>
<text x="228.55" y="155.4" font-size="8.4" text-anchor="middle" fill="#1e1e1e" stroke="#222" stroke-width="0.1">10<tspan font-size="6.2" dy="-2.9" stroke-width="0">3</tspan></text>
<line x1="259.25" y1="141.5" x2="259.25" y2="144.1" stroke="#111" stroke-width="0.9"/>
<text x="257.75" y="155.4" font-size="8.4" text-anchor="middle" fill="#1e1e1e" stroke="#222" stroke-width="0.1">10<tspan font-size="6.2" dy="-2.9" stroke-width="0">4</tspan></text>
<line x1="285.25" y1="141.5" x2="285.25" y2="144.1" stroke="#111" stroke-width="0.9"/>
<text x="283.75" y="155.4" font-size="8.4" text-anchor="middle" fill="#1e1e1e" stroke="#222" stroke-width="0.1">10<tspan font-size="6.2" dy="-2.9" stroke-width="0">5</tspan></text>
<line x1="189.25" y1="141.5" x2="189.25" y2="143.1" stroke="#111" stroke-width="0.6"/>
<line x1="196.75" y1="141.5" x2="196.75" y2="143.1" stroke="#111" stroke-width="0.6"/>
<line x1="199.25" y1="141.5" x2="199.25" y2="143.1" stroke="#111" stroke-width="0.6"/>
<line x1="201.75" y1="141.5" x2="201.75" y2="143.1" stroke="#111" stroke-width="0.6"/>
<line x1="204.25" y1="141.5" x2="204.25" y2="143.1" stroke="#111" stroke-width="0.6"/>
<line x1="206.25" y1="141.5" x2="206.25" y2="143.1" stroke="#111" stroke-width="0.6"/>
<line x1="207.75" y1="141.5" x2="207.75" y2="143.1" stroke="#111" stroke-width="0.6"/>
<line x1="208.55" y1="141.5" x2="208.55" y2="143.1" stroke="#111" stroke-width="0.6"/>
<line x1="209.25" y1="141.5" x2="209.25" y2="143.1" stroke="#111" stroke-width="0.6"/>
<line x1="209.85" y1="141.5" x2="209.85" y2="143.1" stroke="#111" stroke-width="0.6"/>
<line x1="210.45" y1="141.5" x2="210.45" y2="143.1" stroke="#111" stroke-width="0.6"/>
<line x1="211.05" y1="141.5" x2="211.05" y2="143.1" stroke="#111" stroke-width="0.6"/>
<line x1="211.65" y1="141.5" x2="211.65" y2="143.1" stroke="#111" stroke-width="0.6"/>
<line x1="212.25" y1="141.5" x2="212.25" y2="143.1" stroke="#111" stroke-width="0.6"/>
<line x1="212.75" y1="141.5" x2="212.75" y2="143.1" stroke="#111" stroke-width="0.6"/>
<line x1="214.25" y1="141.5" x2="214.25" y2="143.1" stroke="#111" stroke-width="0.6"/>
<line x1="216.25" y1="141.5" x2="216.25" y2="143.1" stroke="#111" stroke-width="0.6"/>
<line x1="218.75" y1="141.5" x2="218.75" y2="143.1" stroke="#111" stroke-width="0.6"/>
<line x1="221.25" y1="141.5" x2="221.25" y2="143.1" stroke="#111" stroke-width="0.6"/>
<line x1="224.75" y1="141.5" x2="224.75" y2="143.1" stroke="#111" stroke-width="0.6"/>
<line x1="233.75" y1="141.5" x2="233.75" y2="143.1" stroke="#111" stroke-width="0.6"/>
<line x1="238.25" y1="141.5" x2="238.25" y2="143.1" stroke="#111" stroke-width="0.6"/>
<line x1="241.25" y1="141.5" x2="241.25" y2="143.1" stroke="#111" stroke-width="0.6"/>
<line x1="243.75" y1="141.5" x2="243.75" y2="143.1" stroke="#111" stroke-width="0.6"/>
<line x1="245.75" y1="141.5" x2="245.75" y2="143.1" stroke="#111" stroke-width="0.6"/>
<line x1="247.75" y1="141.5" x2="247.75" y2="143.1" stroke="#111" stroke-width="0.6"/>
<line x1="249.75" y1="141.5" x2="249.75" y2="143.1" stroke="#111" stroke-width="0.6"/>
<line x1="251.75" y1="141.5" x2="251.75" y2="143.1" stroke="#111" stroke-width="0.6"/>
<line x1="253.75" y1="141.5" x2="253.75" y2="143.1" stroke="#111" stroke-width="0.6"/>
<line x1="255.75" y1="141.5" x2="255.75" y2="143.1" stroke="#111" stroke-width="0.6"/>
<line x1="263.25" y1="141.5" x2="263.25" y2="143.1" stroke="#111" stroke-width="0.6"/>
<line x1="267.75" y1="141.5" x2="267.75" y2="143.1" stroke="#111" stroke-width="0.6"/>
<line x1="271.25" y1="141.5" x2="271.25" y2="143.1" stroke="#111" stroke-width="0.6"/>
<line x1="274.25" y1="141.5" x2="274.25" y2="143.1" stroke="#111" stroke-width="0.6"/>
<line x1="276.75" y1="141.5" x2="276.75" y2="143.1" stroke="#111" stroke-width="0.6"/>
<line x1="278.75" y1="141.5" x2="278.75" y2="143.1" stroke="#111" stroke-width="0.6"/>
<line x1="280.75" y1="141.5" x2="280.75" y2="143.1" stroke="#111" stroke-width="0.6"/>
<line x1="282.25" y1="141.5" x2="282.25" y2="143.1" stroke="#111" stroke-width="0.6"/>
<line x1="289.25" y1="141.5" x2="289.25" y2="143.1" stroke="#111" stroke-width="0.6"/>
<text x="52.6" y="93.6" font-size="7.8" text-anchor="start" fill="#fff" stroke="#fff" stroke-width="1.4" stroke-linejoin="round" opacity="0.85">3.57</text>
<text x="58.3" y="107" font-size="7.8" text-anchor="start" fill="#fff" stroke="#fff" stroke-width="1.4" stroke-linejoin="round" opacity="0.85">NKBr</text>
<text x="87.2" y="124.3" font-size="7.8" text-anchor="start" fill="#fff" stroke="#fff" stroke-width="1.4" stroke-linejoin="round" opacity="0.85">94.7</text>
<text x="86.9" y="136.3" font-size="7.8" text-anchor="start" fill="#fff" stroke="#fff" stroke-width="1.4" stroke-linejoin="round" opacity="0.85">NKDim</text>
<text x="52.6" y="93.6" font-size="7.8" text-anchor="start" fill="#1e1e1e" stroke="#1e1e1e" stroke-width="0.3">3.57</text>
<text x="58.3" y="107" font-size="7.8" text-anchor="start" fill="#3c5a9c" stroke="#3c5a9c" stroke-width="0.3">NKBr</text>
<text x="87.2" y="124.3" font-size="7.8" text-anchor="start" fill="#1e1e1e" stroke="#1e1e1e" stroke-width="0.3">94.7</text>
<text x="86.9" y="136.3" font-size="7.8" text-anchor="start" fill="#b8234a" stroke="#b8234a" stroke-width="0.3">NKDim</text>
<text x="187.9" y="93.6" font-size="7.8" text-anchor="start" fill="#fff" stroke="#fff" stroke-width="1.4" stroke-linejoin="round" opacity="0.85">7.95</text>
<text x="193.6" y="107" font-size="7.8" text-anchor="start" fill="#fff" stroke="#fff" stroke-width="1.4" stroke-linejoin="round" opacity="0.85">NKBr</text>
<text x="222.5" y="124.3" font-size="7.8" text-anchor="start" fill="#fff" stroke="#fff" stroke-width="1.4" stroke-linejoin="round" opacity="0.85">87.0</text>
<text x="222.2" y="136.3" font-size="7.8" text-anchor="start" fill="#fff" stroke="#fff" stroke-width="1.4" stroke-linejoin="round" opacity="0.85">NKDim</text>
<text x="187.9" y="93.6" font-size="7.8" text-anchor="start" fill="#1e1e1e" stroke="#1e1e1e" stroke-width="0.3">7.95</text>
<text x="193.6" y="107" font-size="7.8" text-anchor="start" fill="#3c5a9c" stroke="#3c5a9c" stroke-width="0.3">NKBr</text>
<text x="222.5" y="124.3" font-size="7.8" text-anchor="start" fill="#1e1e1e" stroke="#1e1e1e" stroke-width="0.3">87.0</text>
<text x="222.2" y="136.3" font-size="7.8" text-anchor="start" fill="#b8234a" stroke="#b8234a" stroke-width="0.3">NKDim</text>
<text x="104.6" y="28.3" font-size="9.6" text-anchor="middle" fill="#111">HD</text>
<text x="240" y="28.3" font-size="9.4" text-anchor="middle" fill="#111">MD PT</text>
<line x1="21" y1="106" x2="21" y2="38" stroke="#111" stroke-width="1"/>
<path d="M21 34.5 L18.8 40 L23.2 40 Z" fill="#111"/>
<text transform="translate(20.6,120.5) rotate(-90) scale(0.8,1)" font-size="8.8" text-anchor="middle" y="3" fill="#111" stroke="#111" stroke-width="0.35">CD56</text>
<line x1="85" y1="165" x2="290" y2="165" stroke="#111" stroke-width="1"/>
<path d="M294.5 165 L289 162.8 L289 167.2 Z" fill="#111"/>
<text transform="translate(71.6,168.2) scale(0.74,1)" font-size="8.8" text-anchor="middle" fill="#111" stroke="#111" stroke-width="0.35">CD16</text>
<path d="M51.4 256.5 L69.2 256.5 L72 255.6 L74.5 253.5 L77.6 244.3 L80.6 236.7 L82.9 227.5 L84.5 216.8 L86.7 210.4 L88.3 216 L90.6 215.3 L92.9 213 L95.2 210.7 L96.7 210.7 L98.7 208.4 L100 216.8 L101.3 222.9 L104.3 224.5 L107.4 230.6 L109.7 238.2 L112.7 244.3 L115 250.4 L117.3 255 L121.1 256.5 L157.6 256.5" stroke="#c2c2c2" stroke-width="1" fill="#dcdcdf" stroke-linejoin="round"/>
<path d="M51.4 292.5 L68.4 292.5 L71.5 290.2 L73.8 285.6 L75.3 277.9 L76.8 271.8 L78.3 268.8 L79.6 261.1 L80.6 253.5 L82.2 249.7 L84.5 248.9 L86 252.7 L87.2 248.9 L88.7 248.6 L90.6 253.5 L92.1 255 L93.6 259.6 L95.5 265.7 L97.4 269.5 L99.4 271.1 L101.3 275.7 L103.6 277.9 L105.9 282.5 L108.9 287.9 L112 290.5 L116.5 290.5 L119.6 292.5" stroke="#2f4f90" stroke-width="1.1" fill="none" stroke-linejoin="round"/>
<rect x="50.75" y="183.25" width="107.5" height="109.25" fill="none" stroke="#000" stroke-width="1.3"/>
<line x1="56.75" y1="292.5" x2="56.75" y2="295.1" stroke="#111" stroke-width="0.9"/>
<text x="55.25" y="305.2" font-size="8.3" text-anchor="middle" fill="#1e1e1e" stroke="#222" stroke-width="0.1">-10<tspan font-size="6.2" dy="-2.9" stroke-width="0">3</tspan></text>
<line x1="73.05" y1="292.5" x2="73.05" y2="295.1" stroke="#111" stroke-width="0.9"/>
<text x="73.05" y="305.2" font-size="8.3" text-anchor="middle" fill="#1e1e1e" stroke="#222" stroke-width="0.1">0</text>
<line x1="92.75" y1="292.5" x2="92.75" y2="295.1" stroke="#111" stroke-width="0.9"/>
<text x="91.25" y="305.2" font-size="8.3" text-anchor="middle" fill="#1e1e1e" stroke="#222" stroke-width="0.1">10<tspan font-size="6.2" dy="-2.9" stroke-width="0">3</tspan></text>
<line x1="118.55" y1="292.5" x2="118.55" y2="295.1" stroke="#111" stroke-width="0.9"/>
<text x="117.05" y="305.2" font-size="8.3" text-anchor="middle" fill="#1e1e1e" stroke="#222" stroke-width="0.1">10<tspan font-size="6.2" dy="-2.9" stroke-width="0">4</tspan></text>
<line x1="139.25" y1="292.5" x2="139.25" y2="295.1" stroke="#111" stroke-width="0.9"/>
<text x="137.75" y="305.2" font-size="8.3" text-anchor="middle" fill="#1e1e1e" stroke="#222" stroke-width="0.1">10<tspan font-size="6.2" dy="-2.9" stroke-width="0">5</tspan></text>
<line x1="52.75" y1="292.5" x2="52.75" y2="294.1" stroke="#111" stroke-width="0.6"/>
<line x1="60.25" y1="292.5" x2="60.25" y2="294.1" stroke="#111" stroke-width="0.6"/>
<line x1="62.75" y1="292.5" x2="62.75" y2="294.1" stroke="#111" stroke-width="0.6"/>
<line x1="65.25" y1="292.5" x2="65.25" y2="294.1" stroke="#111" stroke-width="0.6"/>
<line x1="67.25" y1="292.5" x2="67.25" y2="294.1" stroke="#111" stroke-width="0.6"/>
<line x1="69.25" y1="292.5" x2="69.25" y2="294.1" stroke="#111" stroke-width="0.6"/>
<line x1="70.75" y1="292.5" x2="70.75" y2="294.1" stroke="#111" stroke-width="0.6"/>
<line x1="71.95" y1="292.5" x2="71.95" y2="294.1" stroke="#111" stroke-width="0.6"/>
<line x1="74.05" y1="292.5" x2="74.05" y2="294.1" stroke="#111" stroke-width="0.6"/>
<line x1="75.25" y1="292.5" x2="75.25" y2="294.1" stroke="#111" stroke-width="0.6"/>
<line x1="76.75" y1="292.5" x2="76.75" y2="294.1" stroke="#111" stroke-width="0.6"/>
<line x1="78.75" y1="292.5" x2="78.75" y2="294.1" stroke="#111" stroke-width="0.6"/>
<line x1="81.25" y1="292.5" x2="81.25" y2="294.1" stroke="#111" stroke-width="0.6"/>
<line x1="83.75" y1="292.5" x2="83.75" y2="294.1" stroke="#111" stroke-width="0.6"/>
<line x1="87.25" y1="292.5" x2="87.25" y2="294.1" stroke="#111" stroke-width="0.6"/>
<line x1="98.25" y1="292.5" x2="98.25" y2="294.1" stroke="#111" stroke-width="0.6"/>
<line x1="102.25" y1="292.5" x2="102.25" y2="294.1" stroke="#111" stroke-width="0.6"/>
<line x1="105.25" y1="292.5" x2="105.25" y2="294.1" stroke="#111" stroke-width="0.6"/>
<line x1="107.75" y1="292.5" x2="107.75" y2="294.1" stroke="#111" stroke-width="0.6"/>
<line x1="109.75" y1="292.5" x2="109.75" y2="294.1" stroke="#111" stroke-width="0.6"/>
<line x1="111.75" y1="292.5" x2="111.75" y2="294.1" stroke="#111" stroke-width="0.6"/>
<line x1="113.55" y1="292.5" x2="113.55" y2="294.1" stroke="#111" stroke-width="0.6"/>
<line x1="114.95" y1="292.5" x2="114.95" y2="294.1" stroke="#111" stroke-width="0.6"/>
<line x1="123.25" y1="292.5" x2="123.25" y2="294.1" stroke="#111" stroke-width="0.6"/>
<line x1="127.25" y1="292.5" x2="127.25" y2="294.1" stroke="#111" stroke-width="0.6"/>
<line x1="130.25" y1="292.5" x2="130.25" y2="294.1" stroke="#111" stroke-width="0.6"/>
<line x1="132.75" y1="292.5" x2="132.75" y2="294.1" stroke="#111" stroke-width="0.6"/>
<line x1="134.75" y1="292.5" x2="134.75" y2="294.1" stroke="#111" stroke-width="0.6"/>
<line x1="136.25" y1="292.5" x2="136.25" y2="294.1" stroke="#111" stroke-width="0.6"/>
<line x1="144.75" y1="292.5" x2="144.75" y2="294.1" stroke="#111" stroke-width="0.6"/>
<line x1="148.75" y1="292.5" x2="148.75" y2="294.1" stroke="#111" stroke-width="0.6"/>
<line x1="151.75" y1="292.5" x2="151.75" y2="294.1" stroke="#111" stroke-width="0.6"/>
<line x1="154.25" y1="292.5" x2="154.25" y2="294.1" stroke="#111" stroke-width="0.6"/>
<line x1="156.25" y1="292.5" x2="156.25" y2="294.1" stroke="#111" stroke-width="0.6"/>
<text x="154" y="254.3" font-size="7.6" text-anchor="end" fill="#dcdcdc">HD</text>
<text x="154.2" y="288.3" font-size="7.3" text-anchor="end" fill="#1a1a1a" font-weight="bold">HD PT</text>
<path d="M51.4 387.2 L67.1 387.2 L71.5 384.9 L75 378.7 L79.5 364.5 L83 353 L86.5 344.2 L89.2 336.2 L90.5 333.5 L91.5 331.5 L92.2 332.5 L93.2 328 L94.3 325.5 L95.2 328.3 L96.3 323.8 L97.2 327 L98.2 322.8 L99 326 L99.8 322.3 L100.8 325.5 L101.6 322.8 L102.6 326 L105.1 332.7 L107.8 341.5 L111.3 353.9 L114.8 366.3 L118.4 376 L121.9 383.1 L126.3 386.6 L130.8 387.2 L157.6 387.2" stroke="#c2c2c2" stroke-width="1" fill="#dcdcdf" stroke-linejoin="round"/>
<path d="M51.4 422.6 L67.1 422.6 L69.7 419.4 L72.4 410.5 L74.2 396.4 L75.9 382.2 L77.7 368.1 L79.5 358.3 L80.3 357.5 L82.1 360.1 L84.8 361.9 L86.5 364.2 L88.3 373.4 L90.1 375.1 L91.5 376.9 L93.3 382.2 L95.4 384.9 L97.1 391.1 L99.3 397.3 L102.5 401.7 L106 407 L109.5 412.3 L113.1 415.8 L116.6 418.5 L121 421.1 L125.5 422.6" stroke="#b0203f" stroke-width="1.1" fill="none" stroke-linejoin="round"/>
<rect x="50.75" y="313.75" width="107.5" height="108.75" fill="none" stroke="#000" stroke-width="1.3"/>
<line x1="56.75" y1="422.5" x2="56.75" y2="425.1" stroke="#111" stroke-width="0.9"/>
<text x="55.25" y="436" font-size="8.3" text-anchor="middle" fill="#1e1e1e" stroke="#222" stroke-width="0.1">-10<tspan font-size="6.2" dy="-2.9" stroke-width="0">3</tspan></text>
<line x1="73.05" y1="422.5" x2="73.05" y2="425.1" stroke="#111" stroke-width="0.9"/>
<text x="73.05" y="436" font-size="8.3" text-anchor="middle" fill="#1e1e1e" stroke="#222" stroke-width="0.1">0</text>
<line x1="92.75" y1="422.5" x2="92.75" y2="425.1" stroke="#111" stroke-width="0.9"/>
<text x="91.25" y="436" font-size="8.3" text-anchor="middle" fill="#1e1e1e" stroke="#222" stroke-width="0.1">10<tspan font-size="6.2" dy="-2.9" stroke-width="0">3</tspan></text>
<line x1="118.55" y1="422.5" x2="118.55" y2="425.1" stroke="#111" stroke-width="0.9"/>
<text x="117.05" y="436" font-size="8.3" text-anchor="middle" fill="#1e1e1e" stroke="#222" stroke-width="0.1">10<tspan font-size="6.2" dy="-2.9" stroke-width="0">4</tspan></text>
<line x1="139.25" y1="422.5" x2="139.25" y2="425.1" stroke="#111" stroke-width="0.9"/>
<text x="137.75" y="436" font-size="8.3" text-anchor="middle" fill="#1e1e1e" stroke="#222" stroke-width="0.1">10<tspan font-size="6.2" dy="-2.9" stroke-width="0">5</tspan></text>
<line x1="52.75" y1="422.5" x2="52.75" y2="424.1" stroke="#111" stroke-width="0.6"/>
<line x1="60.25" y1="422.5" x2="60.25" y2="424.1" stroke="#111" stroke-width="0.6"/>
<line x1="62.75" y1="422.5" x2="62.75" y2="424.1" stroke="#111" stroke-width="0.6"/>
<line x1="65.25" y1="422.5" x2="65.25" y2="424.1" stroke="#111" stroke-width="0.6"/>
<line x1="67.25" y1="422.5" x2="67.25" y2="424.1" stroke="#111" stroke-width="0.6"/>
<line x1="69.25" y1="422.5" x2="69.25" y2="424.1" stroke="#111" stroke-width="0.6"/>
<line x1="70.75" y1="422.5" x2="70.75" y2="424.1" stroke="#111" stroke-width="0.6"/>
<line x1="71.95" y1="422.5" x2="71.95" y2="424.1" stroke="#111" stroke-width="0.6"/>
<line x1="74.05" y1="422.5" x2="74.05" y2="424.1" stroke="#111" stroke-width="0.6"/>
<line x1="75.25" y1="422.5" x2="75.25" y2="424.1" stroke="#111" stroke-width="0.6"/>
<line x1="76.75" y1="422.5" x2="76.75" y2="424.1" stroke="#111" stroke-width="0.6"/>
<line x1="78.75" y1="422.5" x2="78.75" y2="424.1" stroke="#111" stroke-width="0.6"/>
<line x1="81.25" y1="422.5" x2="81.25" y2="424.1" stroke="#111" stroke-width="0.6"/>
<line x1="83.75" y1="422.5" x2="83.75" y2="424.1" stroke="#111" stroke-width="0.6"/>
<line x1="87.25" y1="422.5" x2="87.25" y2="424.1" stroke="#111" stroke-width="0.6"/>
<line x1="98.25" y1="422.5" x2="98.25" y2="424.1" stroke="#111" stroke-width="0.6"/>
<line x1="102.25" y1="422.5" x2="102.25" y2="424.1" stroke="#111" stroke-width="0.6"/>
<line x1="105.25" y1="422.5" x2="105.25" y2="424.1" stroke="#111" stroke-width="0.6"/>
<line x1="107.75" y1="422.5" x2="107.75" y2="424.1" stroke="#111" stroke-width="0.6"/>
<line x1="109.75" y1="422.5" x2="109.75" y2="424.1" stroke="#111" stroke-width="0.6"/>
<line x1="111.75" y1="422.5" x2="111.75" y2="424.1" stroke="#111" stroke-width="0.6"/>
<line x1="113.55" y1="422.5" x2="113.55" y2="424.1" stroke="#111" stroke-width="0.6"/>
<line x1="114.95" y1="422.5" x2="114.95" y2="424.1" stroke="#111" stroke-width="0.6"/>
<line x1="123.25" y1="422.5" x2="123.25" y2="424.1" stroke="#111" stroke-width="0.6"/>
<line x1="127.25" y1="422.5" x2="127.25" y2="424.1" stroke="#111" stroke-width="0.6"/>
<line x1="130.25" y1="422.5" x2="130.25" y2="424.1" stroke="#111" stroke-width="0.6"/>
<line x1="132.75" y1="422.5" x2="132.75" y2="424.1" stroke="#111" stroke-width="0.6"/>
<line x1="134.75" y1="422.5" x2="134.75" y2="424.1" stroke="#111" stroke-width="0.6"/>
<line x1="136.25" y1="422.5" x2="136.25" y2="424.1" stroke="#111" stroke-width="0.6"/>
<line x1="144.75" y1="422.5" x2="144.75" y2="424.1" stroke="#111" stroke-width="0.6"/>
<line x1="148.75" y1="422.5" x2="148.75" y2="424.1" stroke="#111" stroke-width="0.6"/>
<line x1="151.75" y1="422.5" x2="151.75" y2="424.1" stroke="#111" stroke-width="0.6"/>
<line x1="154.25" y1="422.5" x2="154.25" y2="424.1" stroke="#111" stroke-width="0.6"/>
<line x1="156.25" y1="422.5" x2="156.25" y2="424.1" stroke="#111" stroke-width="0.6"/>
<text x="154" y="385" font-size="7.6" text-anchor="end" fill="#dcdcdc">HD</text>
<text x="154.2" y="418.2" font-size="7.3" text-anchor="end" fill="#1a1a1a" font-weight="bold">HD PT</text>
<text transform="translate(104.8,449.6) scale(0.8,1)" font-size="9" text-anchor="middle" fill="#111" stroke="#111" stroke-width="0.35">TMRM</text>
<rect x="347.5" y="114.5" width="13" height="23.3" fill="#d9d9dd" stroke="#3d5c9c" stroke-width="1"/>
<rect x="367.5" y="89.5" width="13" height="48.3" fill="#fff" stroke="#3d5c9c" stroke-width="1"/>
<line x1="353.5" y1="100.5" x2="353.5" y2="129.5" stroke="#3d5c9c" stroke-width="1"/>
<line x1="350.3" y1="100.5" x2="356.7" y2="100.5" stroke="#3d5c9c" stroke-width="1.1"/>
<line x1="350.3" y1="129.5" x2="356.7" y2="129.5" stroke="#3d5c9c" stroke-width="1.1"/>
<line x1="373.5" y1="64.5" x2="373.5" y2="112.5" stroke="#3d5c9c" stroke-width="1"/>
<line x1="370.3" y1="64.5" x2="376.7" y2="64.5" stroke="#3d5c9c" stroke-width="1.1"/>
<line x1="370.3" y1="112.5" x2="376.7" y2="112.5" stroke="#3d5c9c" stroke-width="1.1"/>
<circle cx="353.5" cy="90.6" r="2.35" fill="#fff" stroke="#3d5c9c" stroke-width="1"/>
<circle cx="348.9" cy="114.2" r="2.35" fill="#fff" stroke="#3d5c9c" stroke-width="1"/>
<circle cx="353.5" cy="118.1" r="2.35" fill="#fff" stroke="#3d5c9c" stroke-width="1"/>
<circle cx="357.9" cy="118.1" r="2.35" fill="#fff" stroke="#3d5c9c" stroke-width="1"/>
<circle cx="353.5" cy="129.6" r="2.35" fill="#fff" stroke="#3d5c9c" stroke-width="1"/>
<circle cx="373.7" cy="64.5" r="2.35" fill="#fff" stroke="#3d5c9c" stroke-width="1"/>
<circle cx="373.7" cy="94.5" r="2.35" fill="#fff" stroke="#3d5c9c" stroke-width="1"/>
<circle cx="373.7" cy="110.4" r="2.35" fill="#fff" stroke="#3d5c9c" stroke-width="1"/>
<line x1="353.5" y1="57.6" x2="373.7" y2="57.6" stroke="#222" stroke-width="1.1"/>
<line x1="353.5" y1="55.6" x2="353.5" y2="59.6" stroke="#222" stroke-width="1"/>
<line x1="373.7" y1="55.6" x2="373.7" y2="59.6" stroke="#222" stroke-width="1"/>
<text x="363.6" y="53" font-size="7" text-anchor="middle" fill="#2a2a2a" stroke="#2a2a2a" stroke-width="0.1">ns</text>
<line x1="340.6" y1="43" x2="340.6" y2="138.4" stroke="#111" stroke-width="1.4"/>
<line x1="337.6" y1="44.3" x2="340.6" y2="44.3" stroke="#111" stroke-width="1"/>
<text x="335" y="47.3" font-size="8.3" text-anchor="end" fill="#1e1e1e" stroke="#222" stroke-width="0.08">2.0</text>
<line x1="337.6" y1="67.6" x2="340.6" y2="67.6" stroke="#111" stroke-width="1"/>
<text x="335" y="70.6" font-size="8.3" text-anchor="end" fill="#1e1e1e" stroke="#222" stroke-width="0.08">1.5</text>
<line x1="337.6" y1="91" x2="340.6" y2="91" stroke="#111" stroke-width="1"/>
<text x="335" y="94" font-size="8.3" text-anchor="end" fill="#1e1e1e" stroke="#222" stroke-width="0.08">1.0</text>
<line x1="337.6" y1="114.4" x2="340.6" y2="114.4" stroke="#111" stroke-width="1"/>
<text x="335" y="117.4" font-size="8.3" text-anchor="end" fill="#1e1e1e" stroke="#222" stroke-width="0.08">0.5</text>
<line x1="337.6" y1="137.8" x2="340.6" y2="137.8" stroke="#111" stroke-width="1"/>
<text x="335" y="140.8" font-size="8.3" text-anchor="end" fill="#1e1e1e" stroke="#222" stroke-width="0.08">0.0</text>
<line x1="339.9" y1="137.8" x2="386.3" y2="137.8" stroke="#111" stroke-width="1.4"/>
<text x="353.5" y="148.3" font-size="8.3" text-anchor="middle" fill="#1e1e1e" stroke="#222" stroke-width="0.1">HD</text>
<text x="373.7" y="148.3" font-size="8.3" text-anchor="middle" fill="#1e1e1e" stroke="#222" stroke-width="0.1">PT</text>
<text transform="translate(315.2,90) rotate(-90)" x="0" y="3.24" font-size="9" text-anchor="middle" fill="#1e1e1e" stroke="#1e1e1e" stroke-width="0.3" textLength="70" lengthAdjust="spacingAndGlyphs">% NKBr in CD45+ cells</text>
<rect x="438.5" y="82.5" width="13" height="55.5" fill="#d9d9dd" stroke="#b12648" stroke-width="1"/>
<rect x="458.5" y="107.5" width="13" height="30.5" fill="#fff" stroke="#b12648" stroke-width="1"/>
<line x1="445.5" y1="65.5" x2="445.5" y2="98.5" stroke="#b12648" stroke-width="1"/>
<line x1="442.3" y1="65.5" x2="448.7" y2="65.5" stroke="#b12648" stroke-width="1.1"/>
<line x1="442.3" y1="98.5" x2="448.7" y2="98.5" stroke="#b12648" stroke-width="1.1"/>
<line x1="465.5" y1="100.5" x2="465.5" y2="113.5" stroke="#b12648" stroke-width="1"/>
<line x1="462.3" y1="100.5" x2="468.7" y2="100.5" stroke="#b12648" stroke-width="1.1"/>
<line x1="462.3" y1="113.5" x2="468.7" y2="113.5" stroke="#b12648" stroke-width="1.1"/>
<circle cx="445" cy="54.1" r="2.35" fill="#fff" stroke="#b12648" stroke-width="1"/>
<circle cx="441.1" cy="85.5" r="2.35" fill="#fff" stroke="#b12648" stroke-width="1"/>
<circle cx="449.5" cy="82" r="2.35" fill="#fff" stroke="#b12648" stroke-width="1"/>
<circle cx="445" cy="90.5" r="2.35" fill="#fff" stroke="#b12648" stroke-width="1"/>
<circle cx="445" cy="95.2" r="2.35" fill="#fff" stroke="#b12648" stroke-width="1"/>
<circle cx="460.5" cy="101.7" r="2.35" fill="#fff" stroke="#b12648" stroke-width="1"/>
<circle cx="469.2" cy="106.4" r="2.35" fill="#fff" stroke="#b12648" stroke-width="1"/>
<circle cx="465.2" cy="113.4" r="2.35" fill="#fff" stroke="#b12648" stroke-width="1"/>
<line x1="445" y1="46.1" x2="465.2" y2="46.1" stroke="#222" stroke-width="1.1"/>
<line x1="445" y1="44.1" x2="445" y2="48.1" stroke="#222" stroke-width="1"/>
<line x1="465.2" y1="44.1" x2="465.2" y2="48.1" stroke="#222" stroke-width="1"/>
<text x="455.1" y="46" font-size="7" text-anchor="middle" fill="#2a2a2a" stroke="#2a2a2a" stroke-width="0.1">*</text>
<line x1="431.7" y1="43.6" x2="431.7" y2="138.6" stroke="#111" stroke-width="1.4"/>
<line x1="428.7" y1="45.4" x2="431.7" y2="45.4" stroke="#111" stroke-width="1"/>
<text x="426.1" y="48.4" font-size="8.3" text-anchor="end" fill="#1e1e1e" stroke="#222" stroke-width="0.08">30</text>
<line x1="428.7" y1="76.3" x2="431.7" y2="76.3" stroke="#111" stroke-width="1"/>
<text x="426.1" y="79.3" font-size="8.3" text-anchor="end" fill="#1e1e1e" stroke="#222" stroke-width="0.08">20</text>
<line x1="428.7" y1="107.1" x2="431.7" y2="107.1" stroke="#111" stroke-width="1"/>
<text x="426.1" y="110.1" font-size="8.3" text-anchor="end" fill="#1e1e1e" stroke="#222" stroke-width="0.08">10</text>
<line x1="428.7" y1="138" x2="431.7" y2="138" stroke="#111" stroke-width="1"/>
<text x="426.1" y="141" font-size="8.3" text-anchor="end" fill="#1e1e1e" stroke="#222" stroke-width="0.08">0</text>
<line x1="431" y1="138" x2="478.4" y2="138" stroke="#111" stroke-width="1.4"/>
<text x="445" y="148.6" font-size="8.3" text-anchor="middle" fill="#1e1e1e" stroke="#222" stroke-width="0.1">HD</text>
<text x="465.2" y="148.6" font-size="8.3" text-anchor="middle" fill="#1e1e1e" stroke="#222" stroke-width="0.1">PT</text>
<text transform="translate(407.6,91) rotate(-90)" x="0" y="3.24" font-size="9" text-anchor="middle" fill="#1e1e1e" stroke="#1e1e1e" stroke-width="0.3" textLength="75" lengthAdjust="spacingAndGlyphs">% NKDim in CD45+ cells</text>
<rect x="210.5" y="238.5" width="12" height="53.7" fill="#d9d9dd" stroke="#3d5c9c" stroke-width="1"/>
<rect x="230.5" y="241.5" width="13" height="50.7" fill="#fff" stroke="#3d5c9c" stroke-width="1"/>
<line x1="216.5" y1="219.5" x2="216.5" y2="256.5" stroke="#3d5c9c" stroke-width="1"/>
<line x1="213.3" y1="219.5" x2="219.7" y2="219.5" stroke="#3d5c9c" stroke-width="1.1"/>
<line x1="213.3" y1="256.5" x2="219.7" y2="256.5" stroke="#3d5c9c" stroke-width="1.1"/>
<line x1="236.5" y1="216.5" x2="236.5" y2="262.5" stroke="#3d5c9c" stroke-width="1"/>
<line x1="233.3" y1="216.5" x2="239.7" y2="216.5" stroke="#3d5c9c" stroke-width="1.1"/>
<line x1="233.3" y1="262.5" x2="239.7" y2="262.5" stroke="#3d5c9c" stroke-width="1.1"/>
<circle cx="216.5" cy="207" r="2.35" fill="#fff" stroke="#3d5c9c" stroke-width="1"/>
<circle cx="216.5" cy="236.3" r="2.35" fill="#fff" stroke="#3d5c9c" stroke-width="1"/>
<circle cx="211.8" cy="244.5" r="2.35" fill="#fff" stroke="#3d5c9c" stroke-width="1"/>
<circle cx="220.8" cy="247" r="2.35" fill="#fff" stroke="#3d5c9c" stroke-width="1"/>
<circle cx="216.5" cy="255.8" r="2.35" fill="#fff" stroke="#3d5c9c" stroke-width="1"/>
<circle cx="236.8" cy="216.3" r="2.35" fill="#fff" stroke="#3d5c9c" stroke-width="1"/>
<circle cx="236.8" cy="244.5" r="2.35" fill="#fff" stroke="#3d5c9c" stroke-width="1"/>
<circle cx="236.8" cy="260.5" r="2.35" fill="#fff" stroke="#3d5c9c" stroke-width="1"/>
<line x1="216.5" y1="199.3" x2="236.8" y2="199.3" stroke="#222" stroke-width="1.1"/>
<line x1="216.5" y1="197.3" x2="216.5" y2="201.3" stroke="#222" stroke-width="1"/>
<line x1="236.8" y1="197.3" x2="236.8" y2="201.3" stroke="#222" stroke-width="1"/>
<text x="226.65" y="194.7" font-size="7" text-anchor="middle" fill="#2a2a2a" stroke="#2a2a2a" stroke-width="0.1">ns</text>
<line x1="203.2" y1="197" x2="203.2" y2="292.8" stroke="#111" stroke-width="1.4"/>
<line x1="200.2" y1="198.8" x2="203.2" y2="198.8" stroke="#111" stroke-width="1"/>
<text x="197.6" y="201.8" font-size="8.3" text-anchor="end" fill="#1e1e1e" stroke="#222" stroke-width="0.08">20</text>
<line x1="200.2" y1="222" x2="203.2" y2="222" stroke="#111" stroke-width="1"/>
<text x="197.6" y="225" font-size="8.3" text-anchor="end" fill="#1e1e1e" stroke="#222" stroke-width="0.08">15</text>
<line x1="200.2" y1="245.5" x2="203.2" y2="245.5" stroke="#111" stroke-width="1"/>
<text x="197.6" y="248.5" font-size="8.3" text-anchor="end" fill="#1e1e1e" stroke="#222" stroke-width="0.08">10</text>
<line x1="200.2" y1="268.8" x2="203.2" y2="268.8" stroke="#111" stroke-width="1"/>
<text x="197.6" y="271.8" font-size="8.3" text-anchor="end" fill="#1e1e1e" stroke="#222" stroke-width="0.08">5</text>
<line x1="200.2" y1="292.2" x2="203.2" y2="292.2" stroke="#111" stroke-width="1"/>
<text x="197.6" y="295.2" font-size="8.3" text-anchor="end" fill="#1e1e1e" stroke="#222" stroke-width="0.08">0</text>
<line x1="202.5" y1="292.2" x2="249.3" y2="292.2" stroke="#111" stroke-width="1.4"/>
<text x="216.5" y="302.2" font-size="8.3" text-anchor="middle" fill="#1e1e1e" stroke="#222" stroke-width="0.1">HD</text>
<text x="236.8" y="302.2" font-size="8.3" text-anchor="middle" fill="#1e1e1e" stroke="#222" stroke-width="0.1">PT</text>
<text transform="translate(178.8,244.8) rotate(-90)" x="0" y="3.24" font-size="9" text-anchor="middle" fill="#1e1e1e" stroke="#1e1e1e" stroke-width="0.3" textLength="57.5" lengthAdjust="spacingAndGlyphs">%TMRM+ in NKBr</text>
<rect x="311.5" y="234.5" width="12" height="57.7" fill="#d9d9dd" stroke="#3d5c9c" stroke-width="1"/>
<rect x="330.5" y="258.5" width="13" height="33.7" fill="#fff" stroke="#3d5c9c" stroke-width="1"/>
<line x1="317.5" y1="223.5" x2="317.5" y2="243.5" stroke="#3d5c9c" stroke-width="1"/>
<line x1="314.3" y1="223.5" x2="320.7" y2="223.5" stroke="#3d5c9c" stroke-width="1.1"/>
<line x1="314.3" y1="243.5" x2="320.7" y2="243.5" stroke="#3d5c9c" stroke-width="1.1"/>
<line x1="337.5" y1="240.5" x2="337.5" y2="277.5" stroke="#3d5c9c" stroke-width="1"/>
<line x1="334.3" y1="240.5" x2="340.7" y2="240.5" stroke="#3d5c9c" stroke-width="1.1"/>
<line x1="334.3" y1="277.5" x2="340.7" y2="277.5" stroke="#3d5c9c" stroke-width="1.1"/>
<circle cx="317.5" cy="221.3" r="2.35" fill="#fff" stroke="#3d5c9c" stroke-width="1"/>
<circle cx="317.5" cy="228.8" r="2.35" fill="#fff" stroke="#3d5c9c" stroke-width="1"/>
<circle cx="317.5" cy="235" r="2.35" fill="#fff" stroke="#3d5c9c" stroke-width="1"/>
<circle cx="317.5" cy="240" r="2.35" fill="#fff" stroke="#3d5c9c" stroke-width="1"/>
<circle cx="317.5" cy="245" r="2.35" fill="#fff" stroke="#3d5c9c" stroke-width="1"/>
<circle cx="337" cy="240.5" r="2.35" fill="#fff" stroke="#3d5c9c" stroke-width="1"/>
<circle cx="337" cy="258" r="2.35" fill="#fff" stroke="#3d5c9c" stroke-width="1"/>
<circle cx="337" cy="277.5" r="2.35" fill="#fff" stroke="#3d5c9c" stroke-width="1"/>
<line x1="317.5" y1="213.8" x2="337" y2="213.8" stroke="#222" stroke-width="1.1"/>
<line x1="317.5" y1="211.8" x2="317.5" y2="215.8" stroke="#222" stroke-width="1"/>
<line x1="337" y1="211.8" x2="337" y2="215.8" stroke="#222" stroke-width="1"/>
<text x="327.25" y="213.8" font-size="7" text-anchor="middle" fill="#2a2a2a" stroke="#2a2a2a" stroke-width="0.1">*</text>
<line x1="303.6" y1="198" x2="303.6" y2="292.8" stroke="#111" stroke-width="1.4"/>
<line x1="300.6" y1="200" x2="303.6" y2="200" stroke="#111" stroke-width="1"/>
<text x="298" y="203" font-size="8.3" text-anchor="end" fill="#1e1e1e" stroke="#222" stroke-width="0.08">1500</text>
<line x1="300.6" y1="230.6" x2="303.6" y2="230.6" stroke="#111" stroke-width="1"/>
<text x="298" y="233.6" font-size="8.3" text-anchor="end" fill="#1e1e1e" stroke="#222" stroke-width="0.08">1000</text>
<line x1="300.6" y1="261.6" x2="303.6" y2="261.6" stroke="#111" stroke-width="1"/>
<text x="298" y="264.6" font-size="8.3" text-anchor="end" fill="#1e1e1e" stroke="#222" stroke-width="0.08">500</text>
<line x1="300.6" y1="292.2" x2="303.6" y2="292.2" stroke="#111" stroke-width="1"/>
<text x="298" y="295.2" font-size="8.3" text-anchor="end" fill="#1e1e1e" stroke="#222" stroke-width="0.08">0</text>
<line x1="302.9" y1="292.2" x2="350.5" y2="292.2" stroke="#111" stroke-width="1.4"/>
<text x="317.5" y="302.2" font-size="8.3" text-anchor="middle" fill="#1e1e1e" stroke="#222" stroke-width="0.1">HD</text>
<text x="337" y="302.2" font-size="8.3" text-anchor="middle" fill="#1e1e1e" stroke="#222" stroke-width="0.1">PT</text>
<text transform="translate(271,244.4) rotate(-90)" x="0" y="3.24" font-size="9" text-anchor="middle" fill="#1e1e1e" stroke="#1e1e1e" stroke-width="0.3" textLength="58.7" lengthAdjust="spacingAndGlyphs">MFI TMRM in NKBr</text>
<rect x="210.5" y="358.5" width="12" height="64.1" fill="#d9d9dd" stroke="#b12648" stroke-width="1"/>
<rect x="229.5" y="389.5" width="13" height="33.1" fill="#fff" stroke="#b12648" stroke-width="1"/>
<line x1="216.5" y1="343.5" x2="216.5" y2="370.5" stroke="#b12648" stroke-width="1"/>
<line x1="213.3" y1="343.5" x2="219.7" y2="343.5" stroke="#b12648" stroke-width="1.1"/>
<line x1="213.3" y1="370.5" x2="219.7" y2="370.5" stroke="#b12648" stroke-width="1.1"/>
<line x1="236.5" y1="388.5" x2="236.5" y2="398.5" stroke="#b12648" stroke-width="1"/>
<line x1="233.3" y1="388.5" x2="239.7" y2="388.5" stroke="#b12648" stroke-width="1.1"/>
<line x1="233.3" y1="398.5" x2="239.7" y2="398.5" stroke="#b12648" stroke-width="1.1"/>
<circle cx="216.5" cy="335.5" r="2.35" fill="#fff" stroke="#b12648" stroke-width="1"/>
<circle cx="211.8" cy="358.8" r="2.35" fill="#fff" stroke="#b12648" stroke-width="1"/>
<circle cx="220.8" cy="358.8" r="2.35" fill="#fff" stroke="#b12648" stroke-width="1"/>
<circle cx="216.5" cy="361.3" r="2.35" fill="#fff" stroke="#b12648" stroke-width="1"/>
<circle cx="216.5" cy="373.3" r="2.35" fill="#fff" stroke="#b12648" stroke-width="1"/>
<circle cx="236.3" cy="379.3" r="2.35" fill="#fff" stroke="#b12648" stroke-width="1"/>
<circle cx="232" cy="395.8" r="2.35" fill="#fff" stroke="#b12648" stroke-width="1"/>
<circle cx="240.5" cy="392.5" r="2.35" fill="#fff" stroke="#b12648" stroke-width="1"/>
<line x1="216.5" y1="327.6" x2="236.3" y2="327.6" stroke="#222" stroke-width="1.1"/>
<line x1="216.5" y1="325.6" x2="216.5" y2="329.6" stroke="#222" stroke-width="1"/>
<line x1="236.3" y1="325.6" x2="236.3" y2="329.6" stroke="#222" stroke-width="1"/>
<text x="226.4" y="327.7" font-size="7" text-anchor="middle" fill="#2a2a2a" stroke="#2a2a2a" stroke-width="0.1">*</text>
<line x1="203.2" y1="328" x2="203.2" y2="423.2" stroke="#111" stroke-width="1.4"/>
<line x1="200.2" y1="330.5" x2="203.2" y2="330.5" stroke="#111" stroke-width="1"/>
<text x="197.6" y="333.5" font-size="8.3" text-anchor="end" fill="#1e1e1e" stroke="#222" stroke-width="0.08">80</text>
<line x1="200.2" y1="353.5" x2="203.2" y2="353.5" stroke="#111" stroke-width="1"/>
<text x="197.6" y="356.5" font-size="8.3" text-anchor="end" fill="#1e1e1e" stroke="#222" stroke-width="0.08">60</text>
<line x1="200.2" y1="376.5" x2="203.2" y2="376.5" stroke="#111" stroke-width="1"/>
<text x="197.6" y="379.5" font-size="8.3" text-anchor="end" fill="#1e1e1e" stroke="#222" stroke-width="0.08">40</text>
<line x1="200.2" y1="399.5" x2="203.2" y2="399.5" stroke="#111" stroke-width="1"/>
<text x="197.6" y="402.5" font-size="8.3" text-anchor="end" fill="#1e1e1e" stroke="#222" stroke-width="0.08">20</text>
<line x1="200.2" y1="422.6" x2="203.2" y2="422.6" stroke="#111" stroke-width="1"/>
<text x="197.6" y="425.6" font-size="8.3" text-anchor="end" fill="#1e1e1e" stroke="#222" stroke-width="0.08">0</text>
<line x1="202.5" y1="422.6" x2="249.3" y2="422.6" stroke="#111" stroke-width="1.4"/>
<text x="216.5" y="432.6" font-size="8.3" text-anchor="middle" fill="#1e1e1e" stroke="#222" stroke-width="0.1">HD</text>
<text x="236.3" y="432.6" font-size="8.3" text-anchor="middle" fill="#1e1e1e" stroke="#222" stroke-width="0.1">PT</text>
<text transform="translate(178.8,374.5) rotate(-90)" x="0" y="3.24" font-size="9" text-anchor="middle" fill="#1e1e1e" stroke="#1e1e1e" stroke-width="0.3" textLength="62.5" lengthAdjust="spacingAndGlyphs">% TMRM+ in NKDim</text>
<rect x="310.5" y="368.5" width="13" height="54.1" fill="#d9d9dd" stroke="#b12648" stroke-width="1"/>
<rect x="330.5" y="398.5" width="13" height="24.1" fill="#fff" stroke="#b12648" stroke-width="1"/>
<line x1="317.5" y1="350.5" x2="317.5" y2="385.5" stroke="#b12648" stroke-width="1"/>
<line x1="314.3" y1="350.5" x2="320.7" y2="350.5" stroke="#b12648" stroke-width="1.1"/>
<line x1="314.3" y1="385.5" x2="320.7" y2="385.5" stroke="#b12648" stroke-width="1.1"/>
<line x1="337.5" y1="393.5" x2="337.5" y2="406.5" stroke="#b12648" stroke-width="1"/>
<line x1="334.3" y1="393.5" x2="340.7" y2="393.5" stroke="#b12648" stroke-width="1.1"/>
<line x1="334.3" y1="406.5" x2="340.7" y2="406.5" stroke="#b12648" stroke-width="1.1"/>
<circle cx="317" cy="345" r="2.35" fill="#fff" stroke="#b12648" stroke-width="1"/>
<circle cx="317" cy="357.5" r="2.35" fill="#fff" stroke="#b12648" stroke-width="1"/>
<circle cx="317" cy="370.8" r="2.35" fill="#fff" stroke="#b12648" stroke-width="1"/>
<circle cx="317" cy="378" r="2.35" fill="#fff" stroke="#b12648" stroke-width="1"/>
<circle cx="317" cy="388.3" r="2.35" fill="#fff" stroke="#b12648" stroke-width="1"/>
<circle cx="337" cy="388.8" r="2.35" fill="#fff" stroke="#b12648" stroke-width="1"/>
<circle cx="332.5" cy="404.5" r="2.35" fill="#fff" stroke="#b12648" stroke-width="1"/>
<circle cx="341.8" cy="400.8" r="2.35" fill="#fff" stroke="#b12648" stroke-width="1"/>
<line x1="317" y1="337.6" x2="337" y2="337.6" stroke="#222" stroke-width="1.1"/>
<line x1="317" y1="335.6" x2="317" y2="339.6" stroke="#222" stroke-width="1"/>
<line x1="337" y1="335.6" x2="337" y2="339.6" stroke="#222" stroke-width="1"/>
<text x="327" y="337.3" font-size="7" text-anchor="middle" fill="#2a2a2a" stroke="#2a2a2a" stroke-width="0.1">*</text>
<line x1="303.6" y1="328" x2="303.6" y2="423.2" stroke="#111" stroke-width="1.4"/>
<line x1="300.6" y1="330" x2="303.6" y2="330" stroke="#111" stroke-width="1"/>
<text x="298" y="333" font-size="8.3" text-anchor="end" fill="#1e1e1e" stroke="#222" stroke-width="0.08">2500</text>
<line x1="300.6" y1="348.3" x2="303.6" y2="348.3" stroke="#111" stroke-width="1"/>
<text x="298" y="351.3" font-size="8.3" text-anchor="end" fill="#1e1e1e" stroke="#222" stroke-width="0.08">2000</text>
<line x1="300.6" y1="367" x2="303.6" y2="367" stroke="#111" stroke-width="1"/>
<text x="298" y="370" font-size="8.3" text-anchor="end" fill="#1e1e1e" stroke="#222" stroke-width="0.08">1500</text>
<line x1="300.6" y1="385.5" x2="303.6" y2="385.5" stroke="#111" stroke-width="1"/>
<text x="298" y="388.5" font-size="8.3" text-anchor="end" fill="#1e1e1e" stroke="#222" stroke-width="0.08">1000</text>
<line x1="300.6" y1="404" x2="303.6" y2="404" stroke="#111" stroke-width="1"/>
<text x="298" y="407" font-size="8.3" text-anchor="end" fill="#1e1e1e" stroke="#222" stroke-width="0.08">500</text>
<line x1="300.6" y1="422.6" x2="303.6" y2="422.6" stroke="#111" stroke-width="1"/>
<text x="298" y="425.6" font-size="8.3" text-anchor="end" fill="#1e1e1e" stroke="#222" stroke-width="0.08">0</text>
<line x1="302.9" y1="422.6" x2="350.5" y2="422.6" stroke="#111" stroke-width="1.4"/>
<text x="317" y="432.6" font-size="8.3" text-anchor="middle" fill="#1e1e1e" stroke="#222" stroke-width="0.1">HD</text>
<text x="337" y="432.6" font-size="8.3" text-anchor="middle" fill="#1e1e1e" stroke="#222" stroke-width="0.1">PT</text>
<text transform="translate(271,374.4) rotate(-90)" x="0" y="3.24" font-size="9" text-anchor="middle" fill="#1e1e1e" stroke="#1e1e1e" stroke-width="0.3" textLength="63.7" lengthAdjust="spacingAndGlyphs">MFI TMRM in NKDim</text>
<rect x="43.5" y="555.5" width="12" height="22.1" fill="#fff" stroke="#e9a032" stroke-width="1"/>
<rect x="63.5" y="516.5" width="12" height="61.1" fill="#fff" stroke="#b12648" stroke-width="1"/>
<rect x="83.5" y="520.5" width="12" height="57.1" fill="#fff" stroke="#73b352" stroke-width="1"/>
<line x1="49.5" y1="545.5" x2="49.5" y2="566.5" stroke="#e9a032" stroke-width="1"/>
<line x1="46.3" y1="545.5" x2="52.7" y2="545.5" stroke="#e9a032" stroke-width="1.1"/>
<line x1="46.3" y1="566.5" x2="52.7" y2="566.5" stroke="#e9a032" stroke-width="1.1"/>
<line x1="69.5" y1="496.5" x2="69.5" y2="536.5" stroke="#b12648" stroke-width="1"/>
<line x1="66.3" y1="496.5" x2="72.7" y2="496.5" stroke="#b12648" stroke-width="1.1"/>
<line x1="66.3" y1="536.5" x2="72.7" y2="536.5" stroke="#b12648" stroke-width="1.1"/>
<line x1="89.5" y1="514.5" x2="89.5" y2="526.5" stroke="#73b352" stroke-width="1"/>
<line x1="86.3" y1="514.5" x2="92.7" y2="514.5" stroke="#73b352" stroke-width="1.1"/>
<line x1="86.3" y1="526.5" x2="92.7" y2="526.5" stroke="#73b352" stroke-width="1.1"/>
<circle cx="49.5" cy="539.5" r="2.35" fill="#fff" stroke="#e9a032" stroke-width="1"/>
<circle cx="45" cy="555.5" r="2.35" fill="#fff" stroke="#e9a032" stroke-width="1"/>
<circle cx="53.8" cy="553" r="2.35" fill="#fff" stroke="#e9a032" stroke-width="1"/>
<circle cx="53.8" cy="560" r="2.35" fill="#fff" stroke="#e9a032" stroke-width="1"/>
<circle cx="49.5" cy="565.8" r="2.35" fill="#fff" stroke="#e9a032" stroke-width="1"/>
<circle cx="69.6" cy="489.5" r="2.35" fill="#fff" stroke="#b12648" stroke-width="1"/>
<circle cx="69.6" cy="505" r="2.35" fill="#fff" stroke="#b12648" stroke-width="1"/>
<circle cx="65" cy="520.8" r="2.35" fill="#fff" stroke="#b12648" stroke-width="1"/>
<circle cx="73.8" cy="522.5" r="2.35" fill="#fff" stroke="#b12648" stroke-width="1"/>
<circle cx="69.6" cy="543" r="2.35" fill="#fff" stroke="#b12648" stroke-width="1"/>
<circle cx="85" cy="514.5" r="2.35" fill="#fff" stroke="#73b352" stroke-width="1"/>
<circle cx="93.8" cy="518" r="2.35" fill="#fff" stroke="#73b352" stroke-width="1"/>
<circle cx="89.6" cy="525.5" r="2.35" fill="#fff" stroke="#73b352" stroke-width="1"/>
<line x1="48.5" y1="481.3" x2="67.9" y2="481.3" stroke="#222" stroke-width="1.1"/>
<line x1="48.5" y1="479.3" x2="48.5" y2="483.3" stroke="#222" stroke-width="1"/>
<line x1="67.9" y1="479.3" x2="67.9" y2="483.3" stroke="#222" stroke-width="1"/>
<text x="58.2" y="481.5" font-size="7" text-anchor="middle" fill="#2a2a2a" stroke="#2a2a2a" stroke-width="0.1">**</text>
<line x1="69.3" y1="481.3" x2="89" y2="481.3" stroke="#222" stroke-width="1.1"/>
<line x1="69.3" y1="479.3" x2="69.3" y2="483.3" stroke="#222" stroke-width="1"/>
<line x1="89" y1="479.3" x2="89" y2="483.3" stroke="#222" stroke-width="1"/>
<text x="79.15" y="479.2" font-size="7" text-anchor="middle" fill="#2a2a2a" stroke="#2a2a2a" stroke-width="0.1">ns</text>
<line x1="48.5" y1="471.3" x2="89" y2="471.3" stroke="#222" stroke-width="1.1"/>
<line x1="48.5" y1="469.3" x2="48.5" y2="473.3" stroke="#222" stroke-width="1"/>
<line x1="89" y1="469.3" x2="89" y2="473.3" stroke="#222" stroke-width="1"/>
<text x="68.75" y="470.3" font-size="7" text-anchor="middle" fill="#2a2a2a" stroke="#2a2a2a" stroke-width="0.1">*</text>
<line x1="36.3" y1="480" x2="36.3" y2="578.2" stroke="#111" stroke-width="1.4"/>
<line x1="33.3" y1="483" x2="36.3" y2="483" stroke="#111" stroke-width="1"/>
<text x="30.7" y="486" font-size="8.3" text-anchor="end" fill="#1e1e1e" stroke="#222" stroke-width="0.08">50</text>
<line x1="33.3" y1="501.8" x2="36.3" y2="501.8" stroke="#111" stroke-width="1"/>
<text x="30.7" y="504.8" font-size="8.3" text-anchor="end" fill="#1e1e1e" stroke="#222" stroke-width="0.08">40</text>
<line x1="33.3" y1="521.2" x2="36.3" y2="521.2" stroke="#111" stroke-width="1"/>
<text x="30.7" y="524.2" font-size="8.3" text-anchor="end" fill="#1e1e1e" stroke="#222" stroke-width="0.08">30</text>
<line x1="33.3" y1="540" x2="36.3" y2="540" stroke="#111" stroke-width="1"/>
<text x="30.7" y="543" font-size="8.3" text-anchor="end" fill="#1e1e1e" stroke="#222" stroke-width="0.08">20</text>
<line x1="33.3" y1="559.2" x2="36.3" y2="559.2" stroke="#111" stroke-width="1"/>
<text x="30.7" y="562.2" font-size="8.3" text-anchor="end" fill="#1e1e1e" stroke="#222" stroke-width="0.08">10</text>
<line x1="33.3" y1="577.6" x2="36.3" y2="577.6" stroke="#111" stroke-width="1"/>
<text x="30.7" y="580.6" font-size="8.3" text-anchor="end" fill="#1e1e1e" stroke="#222" stroke-width="0.08">0</text>
<line x1="35.6" y1="577.6" x2="102" y2="577.6" stroke="#111" stroke-width="1.4"/>
<text transform="translate(12.6,528.8) rotate(-90)" x="0" y="3.24" font-size="9" text-anchor="middle" fill="#1e1e1e" stroke="#1e1e1e" stroke-width="0.3" textLength="75" lengthAdjust="spacingAndGlyphs">% CD57+ in NKDim cells</text>
<text transform="translate(52.5,585.3) rotate(-45)" font-size="8" text-anchor="end" fill="#1e1e1e">HD CMV-</text>
<text transform="translate(73,585.3) rotate(-45)" font-size="8" text-anchor="end" fill="#1e1e1e">HD CMV+</text>
<text transform="translate(93.5,585.3) rotate(-45)" font-size="8" text-anchor="end" fill="#1e1e1e">MD PT</text>
<rect x="153.5" y="514.5" width="13" height="63.1" fill="#fff" stroke="#e9a032" stroke-width="1"/>
<rect x="173.5" y="514.5" width="13" height="63.1" fill="#fff" stroke="#b12648" stroke-width="1"/>
<rect x="193.5" y="550.5" width="14" height="27.1" fill="#fff" stroke="#73b352" stroke-width="1"/>
<line x1="159.5" y1="501.5" x2="159.5" y2="527.5" stroke="#e9a032" stroke-width="1"/>
<line x1="156.3" y1="501.5" x2="162.7" y2="501.5" stroke="#e9a032" stroke-width="1.1"/>
<line x1="156.3" y1="527.5" x2="162.7" y2="527.5" stroke="#e9a032" stroke-width="1.1"/>
<line x1="180.5" y1="506.5" x2="180.5" y2="522.5" stroke="#b12648" stroke-width="1"/>
<line x1="177.3" y1="506.5" x2="183.7" y2="506.5" stroke="#b12648" stroke-width="1.1"/>
<line x1="177.3" y1="522.5" x2="183.7" y2="522.5" stroke="#b12648" stroke-width="1.1"/>
<line x1="200.5" y1="531.5" x2="200.5" y2="568.5" stroke="#73b352" stroke-width="1"/>
<line x1="197.3" y1="531.5" x2="203.7" y2="531.5" stroke="#73b352" stroke-width="1.1"/>
<line x1="197.3" y1="568.5" x2="203.7" y2="568.5" stroke="#73b352" stroke-width="1.1"/>
<circle cx="155" cy="503.8" r="2.35" fill="#fff" stroke="#e9a032" stroke-width="1"/>
<circle cx="163.8" cy="506.3" r="2.35" fill="#fff" stroke="#e9a032" stroke-width="1"/>
<circle cx="159.5" cy="504" r="2.35" fill="#fff" stroke="#e9a032" stroke-width="1"/>
<circle cx="159.5" cy="523.8" r="2.35" fill="#fff" stroke="#e9a032" stroke-width="1"/>
<circle cx="159.5" cy="531.3" r="2.35" fill="#fff" stroke="#e9a032" stroke-width="1"/>
<circle cx="175.5" cy="507.5" r="2.35" fill="#fff" stroke="#b12648" stroke-width="1"/>
<circle cx="184.3" cy="507.5" r="2.35" fill="#fff" stroke="#b12648" stroke-width="1"/>
<circle cx="180" cy="507.5" r="2.35" fill="#fff" stroke="#b12648" stroke-width="1"/>
<circle cx="180" cy="512.5" r="2.35" fill="#fff" stroke="#b12648" stroke-width="1"/>
<circle cx="180" cy="527.5" r="2.35" fill="#fff" stroke="#b12648" stroke-width="1"/>
<circle cx="196.3" cy="539.3" r="2.35" fill="#fff" stroke="#73b352" stroke-width="1"/>
<circle cx="205" cy="539.3" r="2.35" fill="#fff" stroke="#73b352" stroke-width="1"/>
<circle cx="200.8" cy="570" r="2.35" fill="#fff" stroke="#73b352" stroke-width="1"/>
<line x1="159.5" y1="482" x2="200.8" y2="482" stroke="#222" stroke-width="1.1"/>
<line x1="159.5" y1="480" x2="159.5" y2="484" stroke="#222" stroke-width="1"/>
<line x1="200.8" y1="480" x2="200.8" y2="484" stroke="#222" stroke-width="1"/>
<text x="180.15" y="481.5" font-size="7" text-anchor="middle" fill="#2a2a2a" stroke="#2a2a2a" stroke-width="0.1">**</text>
<line x1="159.5" y1="495.5" x2="180" y2="495.5" stroke="#222" stroke-width="1.1"/>
<line x1="159.5" y1="493.5" x2="159.5" y2="497.5" stroke="#222" stroke-width="1"/>
<line x1="180" y1="493.5" x2="180" y2="497.5" stroke="#222" stroke-width="1"/>
<text x="169.75" y="493" font-size="7" text-anchor="middle" fill="#2a2a2a" stroke="#2a2a2a" stroke-width="0.1">ns</text>
<line x1="180" y1="495.5" x2="200.8" y2="495.5" stroke="#222" stroke-width="1.1"/>
<line x1="180" y1="493.5" x2="180" y2="497.5" stroke="#222" stroke-width="1"/>
<line x1="200.8" y1="493.5" x2="200.8" y2="497.5" stroke="#222" stroke-width="1"/>
<text x="190.4" y="495.3" font-size="7" text-anchor="middle" fill="#2a2a2a" stroke="#2a2a2a" stroke-width="0.1">**</text>
<line x1="145.6" y1="478.8" x2="145.6" y2="578.2" stroke="#111" stroke-width="1.4"/>
<line x1="142.6" y1="480.8" x2="145.6" y2="480.8" stroke="#111" stroke-width="1"/>
<text x="140" y="483.8" font-size="8.3" text-anchor="end" fill="#1e1e1e" stroke="#222" stroke-width="0.08">105</text>
<line x1="142.6" y1="500.5" x2="145.6" y2="500.5" stroke="#111" stroke-width="1"/>
<text x="140" y="503.5" font-size="8.3" text-anchor="end" fill="#1e1e1e" stroke="#222" stroke-width="0.08">100</text>
<line x1="142.6" y1="520" x2="145.6" y2="520" stroke="#111" stroke-width="1"/>
<text x="140" y="523" font-size="8.3" text-anchor="end" fill="#1e1e1e" stroke="#222" stroke-width="0.08">95</text>
<line x1="142.6" y1="539.3" x2="145.6" y2="539.3" stroke="#111" stroke-width="1"/>
<text x="140" y="542.3" font-size="8.3" text-anchor="end" fill="#1e1e1e" stroke="#222" stroke-width="0.08">90</text>
<line x1="142.6" y1="558.8" x2="145.6" y2="558.8" stroke="#111" stroke-width="1"/>
<text x="140" y="561.8" font-size="8.3" text-anchor="end" fill="#1e1e1e" stroke="#222" stroke-width="0.08">85</text>
<line x1="142.6" y1="577.6" x2="145.6" y2="577.6" stroke="#111" stroke-width="1"/>
<text x="140" y="580.6" font-size="8.3" text-anchor="end" fill="#1e1e1e" stroke="#222" stroke-width="0.08">80</text>
<line x1="144.9" y1="577.6" x2="213.8" y2="577.6" stroke="#111" stroke-width="1.4"/>
<text transform="translate(117.2,532) rotate(-90)" x="0" y="3.24" font-size="9" text-anchor="middle" fill="#1e1e1e" stroke="#1e1e1e" stroke-width="0.3" textLength="76" lengthAdjust="spacingAndGlyphs">% CD16 in NKDim cells</text>
<text transform="translate(162,585.3) rotate(-45)" font-size="8" text-anchor="end" fill="#1e1e1e">HD CMV-</text>
<text transform="translate(182.5,585.3) rotate(-45)" font-size="8" text-anchor="end" fill="#1e1e1e">HD CMV+</text>
<text transform="translate(203,585.3) rotate(-45)" font-size="8" text-anchor="end" fill="#1e1e1e">MD PT</text>
<rect x="259.5" y="576.5" width="14" height="1.1" fill="#fff" stroke="#e9a032" stroke-width="1"/>
<rect x="280.5" y="541.5" width="13" height="36.1" fill="#fff" stroke="#b12648" stroke-width="1"/>
<rect x="301.5" y="575.5" width="13" height="2.1" fill="#fff" stroke="#73b352" stroke-width="1"/>
<line x1="287.5" y1="513.5" x2="287.5" y2="567.5" stroke="#b12648" stroke-width="1"/>
<line x1="284.3" y1="513.5" x2="290.7" y2="513.5" stroke="#b12648" stroke-width="1.1"/>
<line x1="284.3" y1="567.5" x2="290.7" y2="567.5" stroke="#b12648" stroke-width="1.1"/>
<circle cx="261.8" cy="576.3" r="2.35" fill="#fff" stroke="#e9a032" stroke-width="1"/>
<circle cx="265" cy="574.5" r="2.35" fill="#fff" stroke="#e9a032" stroke-width="1"/>
<circle cx="268.8" cy="575" r="2.35" fill="#fff" stroke="#e9a032" stroke-width="1"/>
<circle cx="271.3" cy="577.5" r="2.35" fill="#fff" stroke="#e9a032" stroke-width="1"/>
<circle cx="287" cy="499.3" r="2.35" fill="#fff" stroke="#b12648" stroke-width="1"/>
<circle cx="287" cy="528.3" r="2.35" fill="#fff" stroke="#b12648" stroke-width="1"/>
<circle cx="287" cy="550" r="2.35" fill="#fff" stroke="#b12648" stroke-width="1"/>
<circle cx="282.5" cy="564.3" r="2.35" fill="#fff" stroke="#b12648" stroke-width="1"/>
<circle cx="291.3" cy="560" r="2.35" fill="#fff" stroke="#b12648" stroke-width="1"/>
<circle cx="303.3" cy="571.8" r="2.35" fill="#fff" stroke="#73b352" stroke-width="1"/>
<circle cx="307.5" cy="573.8" r="2.35" fill="#fff" stroke="#73b352" stroke-width="1"/>
<circle cx="312" cy="575" r="2.35" fill="#fff" stroke="#73b352" stroke-width="1"/>
<circle cx="303.8" cy="577.5" r="2.35" fill="#fff" stroke="#73b352" stroke-width="1"/>
<circle cx="308.8" cy="575.8" r="2.35" fill="#fff" stroke="#73b352" stroke-width="1"/>
<line x1="266.3" y1="480" x2="307.5" y2="480" stroke="#222" stroke-width="1.1"/>
<line x1="266.3" y1="478" x2="266.3" y2="482" stroke="#222" stroke-width="1"/>
<line x1="307.5" y1="478" x2="307.5" y2="482" stroke="#222" stroke-width="1"/>
<text x="286.9" y="476.7" font-size="7" text-anchor="middle" fill="#2a2a2a" stroke="#2a2a2a" stroke-width="0.1">ns</text>
<line x1="266.3" y1="491.8" x2="287" y2="491.8" stroke="#222" stroke-width="1.1"/>
<line x1="266.3" y1="489.8" x2="266.3" y2="493.8" stroke="#222" stroke-width="1"/>
<line x1="287" y1="489.8" x2="287" y2="493.8" stroke="#222" stroke-width="1"/>
<text x="276.65" y="491" font-size="7" text-anchor="middle" fill="#2a2a2a" stroke="#2a2a2a" stroke-width="0.1">*</text>
<line x1="287" y1="491.8" x2="307.5" y2="491.8" stroke="#222" stroke-width="1.1"/>
<line x1="287" y1="489.8" x2="287" y2="493.8" stroke="#222" stroke-width="1"/>
<line x1="307.5" y1="489.8" x2="307.5" y2="493.8" stroke="#222" stroke-width="1"/>
<text x="297.25" y="491" font-size="7" text-anchor="middle" fill="#2a2a2a" stroke="#2a2a2a" stroke-width="0.1">*</text>
<line x1="252.6" y1="478.8" x2="252.6" y2="578.2" stroke="#111" stroke-width="1.4"/>
<line x1="249.6" y1="480.5" x2="252.6" y2="480.5" stroke="#111" stroke-width="1"/>
<text x="247" y="483.5" font-size="8.3" text-anchor="end" fill="#1e1e1e" stroke="#222" stroke-width="0.08">20</text>
<line x1="249.6" y1="505" x2="252.6" y2="505" stroke="#111" stroke-width="1"/>
<text x="247" y="508" font-size="8.3" text-anchor="end" fill="#1e1e1e" stroke="#222" stroke-width="0.08">15</text>
<line x1="249.6" y1="529.3" x2="252.6" y2="529.3" stroke="#111" stroke-width="1"/>
<text x="247" y="532.3" font-size="8.3" text-anchor="end" fill="#1e1e1e" stroke="#222" stroke-width="0.08">10</text>
<line x1="249.6" y1="553.3" x2="252.6" y2="553.3" stroke="#111" stroke-width="1"/>
<text x="247" y="556.3" font-size="8.3" text-anchor="end" fill="#1e1e1e" stroke="#222" stroke-width="0.08">5</text>
<line x1="249.6" y1="577.6" x2="252.6" y2="577.6" stroke="#111" stroke-width="1"/>
<text x="247" y="580.6" font-size="8.3" text-anchor="end" fill="#1e1e1e" stroke="#222" stroke-width="0.08">0</text>
<line x1="251.9" y1="577.6" x2="321.3" y2="577.6" stroke="#111" stroke-width="1.4"/>
<text transform="translate(228.8,527.5) rotate(-90)" x="0" y="3.24" font-size="9" text-anchor="middle" fill="#1e1e1e" stroke="#1e1e1e" stroke-width="0.3" textLength="107.5" lengthAdjust="spacingAndGlyphs">% NKG2A-CD57+NKG2C+ in NKDim</text>
<rect x="285.5" y="490.3" width="3" height="3" fill="#555"/>
<text transform="translate(269,585.3) rotate(-45)" font-size="8" text-anchor="end" fill="#1e1e1e">HD CMV-</text>
<text transform="translate(289.5,585.3) rotate(-45)" font-size="8" text-anchor="end" fill="#1e1e1e">HD CMV+</text>
<text transform="translate(310,585.3) rotate(-45)" font-size="8" text-anchor="end" fill="#1e1e1e">MD PT</text>
<line x1="375" y1="456.3" x2="387" y2="456.3" stroke="#b12648" stroke-width="1.6"/>
<text x="389.3" y="459.2" font-size="8.2" text-anchor="start" fill="#1e1e1e" stroke="#222" stroke-width="0.08" textLength="100.2" lengthAdjust="spacingAndGlyphs">HD CMV+ NKDim IL-15-12-18</text>
<line x1="375" y1="467" x2="387" y2="467" stroke="#e9a032" stroke-width="1.6"/>
<text x="389.3" y="469.9" font-size="8.2" text-anchor="start" fill="#1e1e1e" stroke="#222" stroke-width="0.08" textLength="97.8" lengthAdjust="spacingAndGlyphs">HD CMV- NKDim IL-15-12-18</text>
<line x1="375" y1="478.8" x2="387" y2="478.8" stroke="#73b352" stroke-width="1.6"/>
<text x="389.3" y="481.7" font-size="8.2" text-anchor="start" fill="#1e1e1e" stroke="#222" stroke-width="0.08" textLength="97.8" lengthAdjust="spacingAndGlyphs">PT CMV+ NKDim IL-15-12-18</text>
<line x1="375.6" y1="487.5" x2="375.6" y2="522" stroke="#111" stroke-width="1.4"/>
<line x1="373.5" y1="522" x2="375.6" y2="522" stroke="#111" stroke-width="1"/>
<line x1="375.6" y1="528" x2="375.6" y2="578.2" stroke="#111" stroke-width="1.4"/>
<line x1="373.5" y1="528" x2="375.6" y2="528" stroke="#111" stroke-width="1"/>
<line x1="373" y1="489.3" x2="375.6" y2="489.3" stroke="#111" stroke-width="1"/>
<text x="369.6" y="492.3" font-size="8.3" text-anchor="end" fill="#1e1e1e" stroke="#222" stroke-width="0.08">4000</text>
<line x1="373" y1="507" x2="375.6" y2="507" stroke="#111" stroke-width="1"/>
<text x="369.6" y="510" font-size="8.3" text-anchor="end" fill="#1e1e1e" stroke="#222" stroke-width="0.08">2000</text>
<line x1="373" y1="529.3" x2="375.6" y2="529.3" stroke="#111" stroke-width="1"/>
<text x="369.6" y="532.3" font-size="8.3" text-anchor="end" fill="#1e1e1e" stroke="#222" stroke-width="0.08">200</text>
<line x1="373" y1="548.8" x2="375.6" y2="548.8" stroke="#111" stroke-width="1"/>
<text x="369.6" y="551.8" font-size="8.3" text-anchor="end" fill="#1e1e1e" stroke="#222" stroke-width="0.08">100</text>
<line x1="373" y1="568.3" x2="375.6" y2="568.3" stroke="#111" stroke-width="1"/>
<text x="369.6" y="571.3" font-size="8.3" text-anchor="end" fill="#1e1e1e" stroke="#222" stroke-width="0.08">0</text>
<line x1="374.9" y1="577.6" x2="510.5" y2="577.6" stroke="#111" stroke-width="1.4"/>
<line x1="375.6" y1="577.6" x2="375.6" y2="580.3" stroke="#111" stroke-width="1"/>
<text x="375.6" y="591.6" font-size="8" text-anchor="middle" fill="#1e1e1e">0</text>
<line x1="408.7" y1="577.6" x2="408.7" y2="580.3" stroke="#111" stroke-width="1"/>
<text x="408.7" y="591.6" font-size="8" text-anchor="middle" fill="#1e1e1e">3</text>
<line x1="441.8" y1="577.6" x2="441.8" y2="580.3" stroke="#111" stroke-width="1"/>
<text x="441.8" y="591.6" font-size="8" text-anchor="middle" fill="#1e1e1e">6</text>
<line x1="475" y1="577.6" x2="475" y2="580.3" stroke="#111" stroke-width="1"/>
<text x="475" y="591.6" font-size="8" text-anchor="middle" fill="#1e1e1e">9</text>
<line x1="508" y1="577.6" x2="508" y2="580.3" stroke="#111" stroke-width="1"/>
<text x="508" y="591.6" font-size="8" text-anchor="middle" fill="#1e1e1e">12</text>
<line x1="375.6" y1="568.3" x2="508" y2="568.3" stroke="#222" stroke-width="0.8" stroke-dasharray="1,1.2"/>
<path d="M375.6 568.3 L419.5 572 L508 572" stroke="#73b352" stroke-width="1.5" fill="none" stroke-linejoin="round"/>
<path d="M375.6 568.3 L441.8 567 L463.8 556.3 L486 560.5 L508 566.5" stroke="#73b352" stroke-width="1.5" fill="none" stroke-linejoin="round"/>
<path d="M375.6 568.3 L419.5 562 L441.8 555 L463.8 549.4 L508 566.8" stroke="#73b352" stroke-width="1.5" fill="none" stroke-linejoin="round"/>
<path d="M375.6 568.3 L419.5 539.3 L441.8 554.4 L463.8 561.5 L486 566.6 L508 567.3" stroke="#e9a032" stroke-width="1.6" fill="none" stroke-linejoin="round"/>
<path d="M375.6 568.3 L415 527.6" stroke="#b12648" stroke-width="1.8" fill="none" stroke-linejoin="round"/>
<path d="M418.8 521.3 L441.3 507 L463.8 500.5 L486.2 493.3 L508.5 489.3" stroke="#b12648" stroke-width="1.8" fill="none" stroke-linejoin="round"/>
<text transform="translate(443,603.8) scale(0.8,1)" font-size="9" text-anchor="middle" fill="#111" stroke="#111" stroke-width="0.35">Days</text>
<text transform="translate(341.4,532) rotate(-90)" x="0" y="3.24" font-size="9" text-anchor="middle" fill="#1e1e1e" stroke="#1e1e1e" stroke-width="0.3" textLength="101" lengthAdjust="spacingAndGlyphs">% increase (based on the n° cells)</text>
</svg></div></body></html>
